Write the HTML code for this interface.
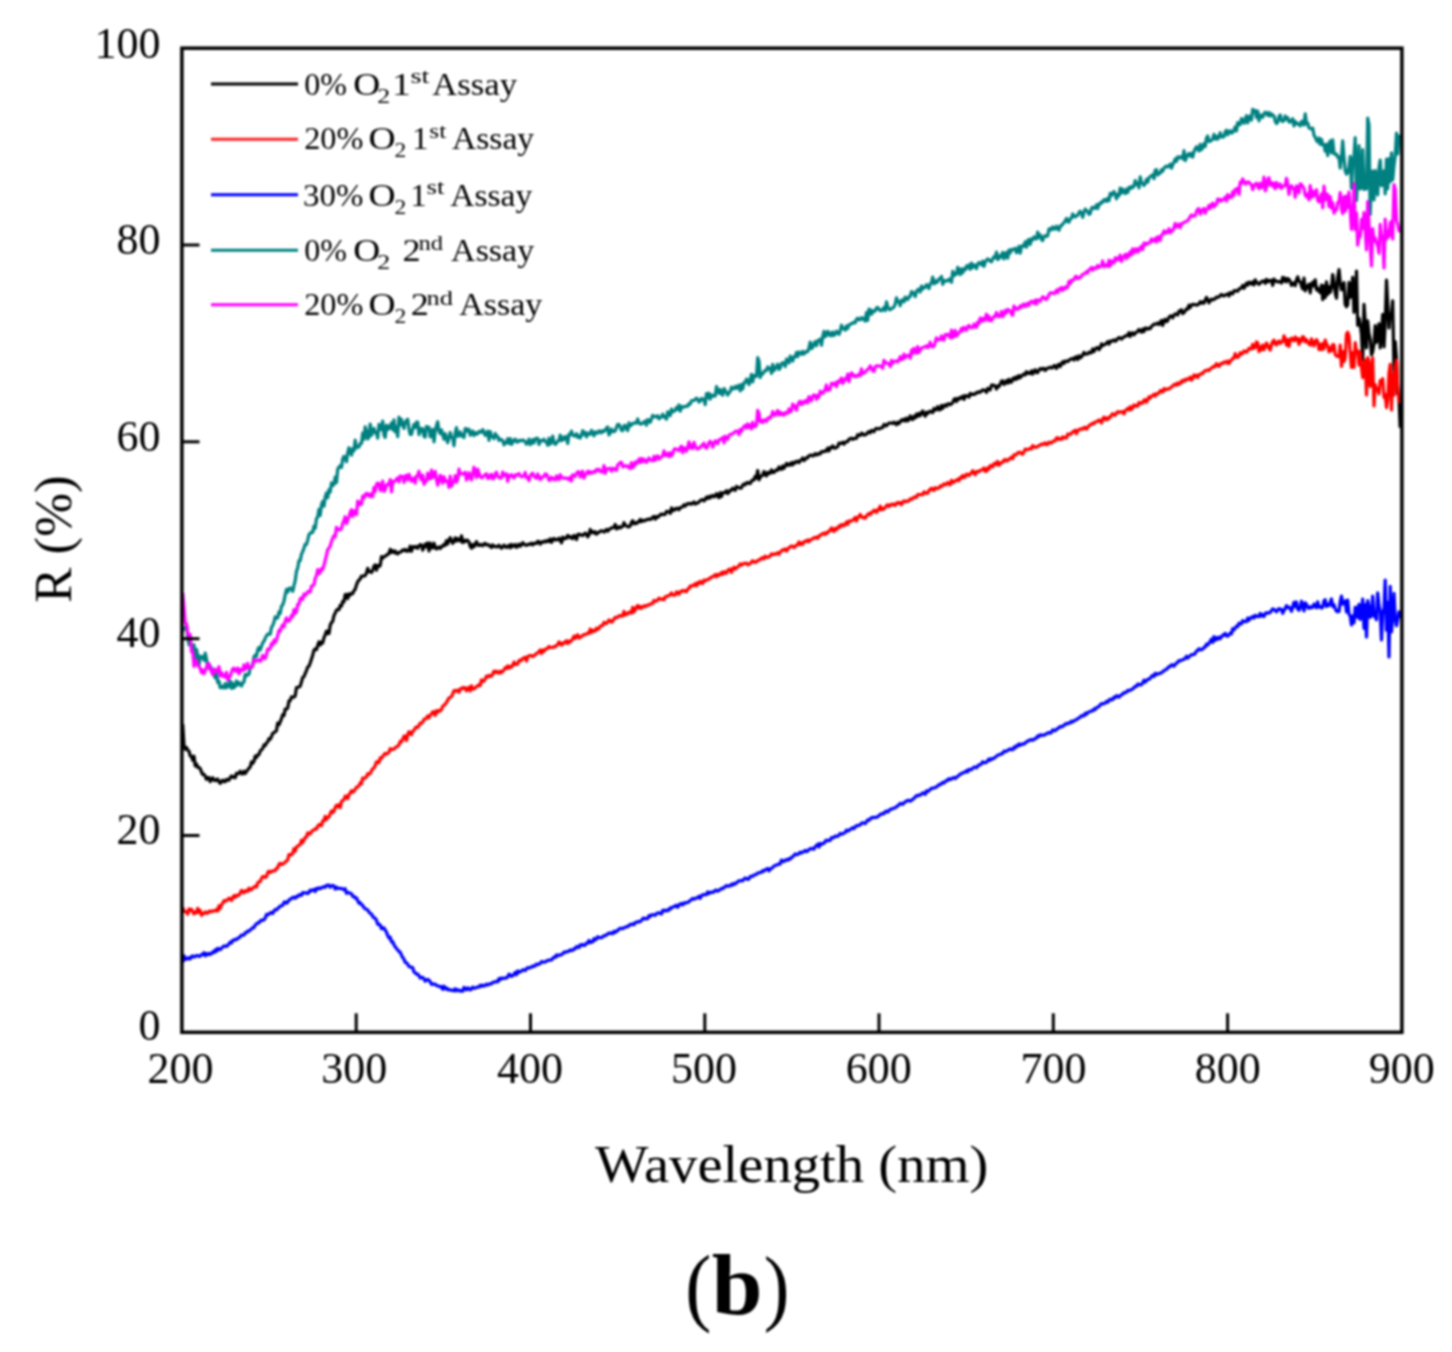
<!DOCTYPE html>
<html><head><meta charset="utf-8"><style>
html,body{margin:0;padding:0;background:#fff;width:1452px;height:1352px;overflow:hidden}
svg{display:block}
#w{filter:blur(1px)}
text{fill:#000}
</style></head><body><div id="w">
<svg width="1452" height="1352" viewBox="0 0 1452 1352">
<rect width="1452" height="1352" fill="#fff"/>
<polyline fill="none" stroke="#000000" stroke-width="3.2" stroke-linejoin="round" points="182.7,724.0 184.0,745.5 185.2,749.3 186.5,747.5 187.7,750.1 189.0,751.2 190.2,755.9 191.5,756.3 192.7,760.2 194.0,756.2 195.2,765.8 196.5,764.0 197.7,767.4 199.0,767.4 200.2,768.6 201.5,772.0 202.7,774.5 204.0,774.4 205.2,776.2 206.5,779.3 207.7,777.7 209.0,777.5 210.2,781.6 211.5,779.9 212.7,777.8 214.0,780.0 215.2,780.7 216.5,779.5 217.7,779.1 219.0,781.8 220.2,783.4 221.5,781.3 222.7,780.1 224.0,781.6 225.2,781.7 226.5,779.3 227.7,780.1 229.0,780.2 230.2,777.5 231.5,775.9 232.7,777.3 234.0,776.7 235.2,777.7 236.5,773.3 237.7,773.9 239.0,773.2 240.2,771.3 241.5,773.8 242.7,773.8 244.0,771.1 245.2,773.6 246.5,771.5 247.7,769.9 249.0,768.0 250.2,767.2 251.5,761.9 252.7,763.2 254.0,761.4 255.2,756.1 256.5,757.6 257.7,754.9 259.0,754.6 260.2,750.9 261.5,749.8 262.7,748.5 264.0,745.0 265.2,745.6 266.5,742.8 267.7,742.0 269.0,738.6 270.2,739.2 271.5,736.6 272.7,733.4 274.0,732.7 275.2,731.7 276.5,730.5 277.7,723.1 279.0,724.8 280.2,721.9 281.5,718.6 282.7,714.6 284.0,715.5 285.2,709.0 286.5,709.2 287.7,707.9 289.0,700.9 290.2,700.7 291.5,696.9 292.7,697.2 294.0,697.1 295.2,695.8 296.5,687.6 297.7,687.3 299.0,687.0 300.2,686.1 301.5,681.8 302.7,677.4 304.0,676.6 305.2,673.5 306.5,670.6 307.7,667.0 309.0,666.1 310.2,663.0 311.5,659.0 312.7,655.2 314.0,650.1 315.2,648.8 316.5,649.6 317.7,645.5 319.0,641.8 320.2,645.0 321.5,642.1 322.7,643.0 324.0,637.6 325.2,634.8 326.5,631.1 327.7,633.6 329.0,633.4 330.2,625.2 331.5,622.5 332.7,621.5 334.0,615.4 335.2,613.2 336.5,610.2 337.7,609.3 339.0,609.6 340.2,605.4 341.5,606.0 342.7,601.4 344.0,601.8 345.2,594.5 346.5,594.7 347.7,598.6 349.0,593.8 350.2,595.1 351.5,593.4 352.7,593.6 354.0,590.7 355.2,589.4 356.5,584.9 357.7,581.8 359.0,580.0 360.2,579.0 361.5,576.0 362.7,576.1 364.0,575.9 365.2,575.6 366.5,573.1 367.7,568.3 369.0,571.7 370.2,571.5 371.5,572.5 372.7,570.3 374.0,566.2 375.2,564.9 376.5,570.1 377.7,565.5 379.0,566.4 380.2,565.4 381.5,556.7 382.7,558.0 384.0,556.8 385.2,556.0 386.5,555.3 387.7,554.1 389.0,553.7 390.2,549.4 391.5,552.3 392.7,550.7 394.0,552.6 395.2,551.0 396.5,553.4 397.7,553.8 399.0,552.4 400.2,552.2 401.5,551.5 402.7,550.0 404.0,550.5 405.2,549.4 406.5,551.3 407.7,550.1 409.0,551.1 410.2,546.2 411.5,551.2 412.7,546.9 414.0,546.6 415.2,547.6 416.5,546.5 417.7,548.3 419.0,546.0 420.2,544.6 421.5,545.0 422.7,550.1 424.0,547.0 425.2,544.1 426.5,546.8 427.7,543.0 429.0,551.0 430.2,543.1 431.5,547.9 432.7,548.0 434.0,543.2 435.2,547.3 436.5,549.0 437.7,547.6 439.0,547.1 440.2,548.6 441.5,546.4 442.7,546.3 444.0,544.5 445.2,545.4 446.5,540.7 447.7,544.0 449.0,539.9 450.2,537.7 451.5,540.6 452.7,543.3 454.0,541.3 455.2,537.8 456.5,541.0 457.7,538.6 459.0,539.9 460.2,541.0 461.5,535.9 462.7,542.6 464.0,540.3 465.2,541.6 466.5,540.2 467.7,540.4 469.0,542.0 470.2,546.3 471.5,548.2 472.7,544.5 474.0,546.7 475.2,544.2 476.5,541.6 477.7,545.0 479.0,545.5 480.2,544.4 481.5,545.3 482.7,545.7 484.0,544.0 485.2,543.3 486.5,544.9 487.7,544.9 489.0,544.8 490.2,546.5 491.5,547.5 492.7,544.9 494.0,546.3 495.2,546.7 496.5,546.4 497.7,546.9 499.0,545.2 500.2,546.6 501.5,548.3 502.7,546.8 504.0,545.1 505.2,546.6 506.5,547.5 507.7,546.4 509.0,545.3 510.2,547.9 511.5,544.4 512.7,546.6 514.0,546.0 515.2,544.5 516.5,547.4 517.7,546.2 519.0,544.2 520.2,546.2 521.5,544.8 522.7,542.7 524.0,544.1 525.2,545.0 526.5,545.3 527.7,544.5 529.0,544.1 530.2,544.4 531.5,543.3 532.7,544.9 534.0,543.4 535.2,543.4 536.5,543.5 537.7,541.3 539.0,541.6 540.2,544.2 541.5,542.6 542.7,541.6 544.0,542.2 545.2,541.0 546.5,541.8 547.7,540.4 549.0,541.4 550.2,538.9 551.5,542.4 552.7,539.9 554.0,538.4 555.2,539.9 556.5,539.5 557.7,539.9 559.0,538.1 560.2,539.8 561.5,542.8 562.7,537.2 564.0,539.0 565.2,537.9 566.5,538.3 567.7,535.5 569.0,536.1 570.2,537.8 571.5,536.9 572.7,538.7 574.0,535.5 575.2,536.4 576.5,539.5 577.7,534.6 579.0,534.2 580.2,535.0 581.5,534.7 582.7,535.6 584.0,534.4 585.2,533.1 586.5,534.0 587.7,536.8 589.0,534.8 590.2,529.5 591.5,532.6 592.7,531.4 594.0,533.1 595.2,531.8 596.5,534.2 597.7,532.7 599.0,532.4 600.2,531.3 601.5,530.8 602.7,531.0 604.0,532.0 605.2,530.8 606.5,529.4 607.7,531.2 609.0,529.5 610.2,528.9 611.5,527.8 612.7,527.8 614.0,527.4 615.2,524.4 616.5,528.9 617.7,528.0 619.0,526.7 620.2,528.0 621.5,526.9 622.7,526.5 624.0,522.7 625.2,525.1 626.5,525.8 627.7,526.8 629.0,526.8 630.2,525.9 631.5,522.3 632.7,520.7 634.0,523.8 635.2,522.8 636.5,523.6 637.7,521.9 639.0,522.0 640.2,519.5 641.5,521.6 642.7,520.2 644.0,520.8 645.2,520.6 646.5,519.5 647.7,519.7 649.0,518.9 650.2,519.5 651.5,518.8 652.7,517.1 654.0,516.6 655.2,519.2 656.5,516.5 657.7,517.4 659.0,516.3 660.2,514.6 661.5,514.0 662.7,514.6 664.0,514.3 665.2,514.3 666.5,511.4 667.7,511.7 669.0,511.8 670.2,513.4 671.5,508.0 672.7,510.9 674.0,509.2 675.2,509.8 676.5,508.1 677.7,508.7 679.0,509.7 680.2,507.6 681.5,507.2 682.7,506.7 684.0,504.8 685.2,506.0 686.5,504.6 687.7,503.5 689.0,504.0 690.2,503.4 691.5,504.2 692.7,502.9 694.0,501.9 695.2,504.0 696.5,503.1 697.7,503.1 699.0,501.9 700.2,500.6 701.5,499.9 702.7,499.7 704.0,500.9 705.2,499.5 706.5,497.1 707.7,498.5 709.0,496.4 710.2,498.0 711.5,495.9 712.7,495.4 714.0,496.8 715.2,496.1 716.5,493.7 717.7,496.3 719.0,497.7 720.2,492.7 721.5,496.5 722.7,492.9 724.0,492.7 725.2,492.7 726.5,490.7 727.7,493.6 729.0,492.2 730.2,490.2 731.5,490.3 732.7,488.2 734.0,489.2 735.2,490.3 736.5,486.5 737.7,487.5 739.0,487.6 740.2,488.2 741.5,487.9 742.7,485.0 744.0,484.0 745.2,484.8 746.5,483.0 747.7,482.4 749.0,483.4 750.2,483.5 751.5,481.0 752.7,479.8 754.0,480.1 755.2,476.3 756.5,478.0 757.7,470.5 759.0,479.9 760.2,477.2 761.5,476.0 762.7,475.0 764.0,471.6 765.2,475.1 766.5,475.8 767.7,472.3 769.0,473.6 770.2,473.2 771.5,469.9 772.7,472.5 774.0,472.5 775.2,470.7 776.5,469.8 777.7,470.4 779.0,467.0 780.2,468.6 781.5,469.3 782.7,466.0 784.0,468.3 785.2,466.1 786.5,463.5 787.7,465.4 789.0,463.9 790.2,465.0 791.5,462.6 792.7,464.9 794.0,462.2 795.2,463.0 796.5,461.3 797.7,461.2 799.0,462.5 800.2,460.8 801.5,459.6 802.7,458.0 804.0,460.5 805.2,459.4 806.5,457.6 807.7,457.8 809.0,455.7 810.2,455.3 811.5,455.0 812.7,456.0 814.0,455.4 815.2,453.6 816.5,455.0 817.7,454.5 819.0,453.3 820.2,453.9 821.5,451.7 822.7,451.5 824.0,451.7 825.2,450.6 826.5,451.1 827.7,448.1 829.0,450.9 830.2,447.7 831.5,448.0 832.7,445.9 834.0,447.9 835.2,448.2 836.5,447.4 837.7,446.6 839.0,443.1 840.2,443.5 841.5,443.3 842.7,442.2 844.0,444.2 845.2,442.4 846.5,441.6 847.7,441.6 849.0,439.2 850.2,438.7 851.5,438.2 852.7,439.3 854.0,438.5 855.2,438.3 856.5,438.3 857.7,434.7 859.0,435.2 860.2,435.5 861.5,433.2 862.7,433.7 864.0,435.1 865.2,434.7 866.5,434.2 867.7,432.4 869.0,431.6 870.2,432.8 871.5,430.5 872.7,430.9 874.0,431.7 875.2,429.1 876.5,428.4 877.7,428.7 879.0,429.0 880.2,428.4 881.5,427.6 882.7,427.6 884.0,424.5 885.2,425.0 886.5,425.9 887.7,424.1 889.0,423.2 890.2,423.0 891.5,423.0 892.7,423.5 894.0,422.1 895.2,423.3 896.5,424.7 897.7,422.1 899.0,423.5 900.2,421.9 901.5,419.8 902.7,420.5 904.0,419.2 905.2,421.0 906.5,418.2 907.7,420.9 909.0,419.5 910.2,415.9 911.5,419.0 912.7,419.5 914.0,416.2 915.2,418.0 916.5,414.1 917.7,416.3 919.0,413.5 920.2,415.7 921.5,412.5 922.7,411.0 924.0,414.3 925.2,416.2 926.5,412.2 927.7,413.5 929.0,412.1 930.2,411.1 931.5,411.8 932.7,412.6 934.0,408.5 935.2,410.2 936.5,409.4 937.7,406.6 939.0,409.9 940.2,409.7 941.5,405.5 942.7,408.3 944.0,405.6 945.2,404.8 946.5,406.3 947.7,404.1 949.0,403.7 950.2,404.6 951.5,403.8 952.7,402.8 954.0,399.4 955.2,398.7 956.5,401.5 957.7,398.5 959.0,399.4 960.2,397.4 961.5,398.0 962.7,396.2 964.0,399.4 965.2,395.6 966.5,396.3 967.7,395.8 969.0,397.1 970.2,393.4 971.5,394.7 972.7,394.0 974.0,394.5 975.2,394.0 976.5,392.4 977.7,392.8 979.0,391.6 980.2,392.2 981.5,391.1 982.7,389.9 984.0,390.3 985.2,390.3 986.5,392.3 987.7,388.4 989.0,388.9 990.2,389.9 991.5,385.1 992.7,385.1 994.0,385.3 995.2,386.2 996.5,389.0 997.7,386.0 999.0,386.5 1000.2,384.3 1001.5,381.0 1002.7,380.8 1004.0,384.5 1005.2,383.0 1006.5,380.6 1007.7,383.2 1009.0,379.3 1010.2,382.2 1011.5,382.1 1012.7,378.8 1014.0,377.8 1015.2,379.7 1016.5,376.8 1017.7,378.7 1019.0,375.6 1020.2,377.6 1021.5,376.2 1022.7,375.0 1024.0,373.9 1025.2,374.9 1026.5,371.7 1027.7,373.3 1029.0,372.7 1030.2,373.6 1031.5,370.8 1032.7,374.1 1034.0,371.2 1035.2,369.8 1036.5,372.6 1037.7,372.6 1039.0,369.9 1040.2,368.7 1041.5,369.5 1042.7,368.3 1044.0,368.5 1045.2,370.5 1046.5,368.7 1047.7,368.1 1049.0,368.0 1050.2,367.2 1051.5,367.9 1052.7,367.6 1054.0,365.7 1055.2,365.9 1056.5,368.4 1057.7,365.5 1059.0,364.3 1060.2,366.6 1061.5,363.6 1062.7,361.8 1064.0,363.5 1065.2,361.0 1066.5,361.0 1067.7,361.6 1069.0,360.5 1070.2,359.2 1071.5,358.9 1072.7,358.4 1074.0,360.0 1075.2,357.2 1076.5,356.8 1077.7,359.5 1079.0,355.8 1080.2,357.8 1081.5,357.0 1082.7,354.7 1084.0,352.5 1085.2,354.3 1086.5,354.0 1087.7,353.8 1089.0,352.1 1090.2,353.0 1091.5,352.6 1092.7,349.0 1094.0,351.5 1095.2,349.3 1096.5,347.8 1097.7,347.5 1099.0,349.7 1100.2,348.0 1101.5,343.9 1102.7,345.7 1104.0,344.9 1105.2,344.3 1106.5,343.3 1107.7,341.6 1109.0,344.0 1110.2,341.2 1111.5,341.4 1112.7,340.6 1114.0,339.9 1115.2,341.3 1116.5,340.3 1117.7,338.5 1119.0,337.7 1120.2,337.8 1121.5,339.1 1122.7,337.5 1124.0,337.2 1125.2,336.0 1126.5,335.6 1127.7,335.7 1129.0,332.7 1130.2,336.5 1131.5,333.0 1132.7,332.8 1134.0,334.8 1135.2,333.0 1136.5,332.3 1137.7,331.1 1139.0,329.5 1140.2,331.3 1141.5,332.1 1142.7,329.1 1144.0,331.5 1145.2,328.0 1146.5,328.1 1147.7,329.2 1149.0,328.2 1150.2,328.6 1151.5,326.3 1152.7,325.5 1154.0,324.0 1155.2,324.3 1156.5,324.0 1157.7,323.0 1159.0,324.6 1160.2,322.7 1161.5,320.4 1162.7,325.4 1164.0,320.5 1165.2,319.3 1166.5,321.7 1167.7,320.8 1169.0,317.2 1170.2,316.1 1171.5,315.9 1172.7,317.8 1174.0,315.3 1175.2,313.9 1176.5,314.2 1177.7,315.0 1179.0,311.1 1180.2,311.6 1181.5,309.7 1182.7,313.6 1184.0,312.5 1185.2,310.8 1186.5,308.8 1187.7,309.2 1189.0,305.2 1190.2,307.5 1191.5,304.9 1192.7,304.4 1194.0,304.6 1195.2,304.5 1196.5,305.1 1197.7,304.8 1199.0,303.7 1200.2,301.7 1201.5,303.3 1202.7,301.9 1204.0,303.1 1205.2,300.1 1206.5,297.4 1207.7,299.9 1209.0,302.8 1210.2,300.3 1211.5,299.1 1212.7,300.0 1214.0,299.2 1215.2,298.7 1216.5,297.0 1217.7,297.3 1219.0,297.0 1220.2,295.5 1221.5,294.4 1222.7,295.5 1224.0,296.0 1225.2,295.1 1226.5,294.4 1227.7,293.9 1229.0,296.0 1230.2,292.6 1231.5,293.1 1232.7,293.8 1234.0,290.9 1235.2,290.6 1236.5,291.0 1237.7,291.3 1239.0,289.1 1240.2,288.6 1241.5,287.8 1242.7,285.5 1244.0,288.2 1245.2,285.8 1246.5,283.2 1247.7,285.1 1249.0,282.1 1250.2,282.7 1251.5,284.0 1252.7,281.9 1254.0,284.9 1255.2,279.9 1256.5,282.7 1257.7,282.9 1259.0,284.4 1260.2,283.2 1261.5,281.6 1262.7,281.2 1264.0,280.9 1265.2,283.3 1266.5,279.5 1267.7,281.9 1269.0,280.5 1270.2,281.2 1271.5,280.1 1272.7,285.3 1274.0,279.1 1275.2,281.1 1276.5,281.1 1277.7,281.9 1279.0,281.6 1280.2,281.6 1281.5,283.0 1282.7,277.3 1284.0,281.0 1285.2,278.2 1286.5,281.9 1287.7,278.6 1289.0,279.3 1290.2,281.6 1291.5,285.4 1292.7,283.4 1294.0,282.8 1295.2,285.7 1296.5,279.8 1297.7,276.8 1299.0,281.2 1300.2,281.6 1301.5,285.8 1302.7,288.8 1304.0,278.2 1305.2,290.8 1306.5,288.1 1307.7,285.7 1309.0,284.1 1310.2,292.9 1311.5,283.9 1312.7,282.2 1314.0,286.0 1315.2,279.8 1316.5,289.8 1317.7,288.0 1319.0,291.4 1320.2,292.5 1321.5,285.2 1322.7,299.6 1324.0,285.9 1325.2,297.7 1326.5,281.8 1327.7,294.6 1329.0,286.5 1330.2,292.4 1331.5,287.2 1332.7,274.5 1334.0,282.6 1335.2,292.8 1336.5,298.1 1337.7,277.3 1339.0,269.7 1340.2,282.5 1341.5,289.8 1342.7,284.8 1344.0,282.7 1345.2,304.4 1346.5,306.7 1347.7,304.6 1349.0,282.4 1350.2,297.3 1351.5,294.4 1352.7,277.4 1354.0,312.3 1355.2,301.8 1356.5,271.0 1357.7,325.3 1359.0,318.2 1360.2,323.9 1361.5,334.2 1362.7,360.0 1364.0,304.4 1365.2,322.6 1366.5,347.8 1367.7,320.9 1369.0,333.7 1370.2,339.0 1371.5,354.9 1372.7,351.6 1374.0,344.1 1375.2,325.7 1376.5,342.3 1377.7,335.3 1379.0,323.8 1380.2,347.9 1381.5,334.2 1382.7,314.3 1384.0,346.8 1385.2,322.8 1386.5,280.0 1387.7,303.3 1389.0,328.0 1390.2,313.9 1391.5,314.2 1392.7,300.8 1394.0,370.6 1395.2,341.7 1396.5,358.7 1397.7,393.6 1399.0,397.4 1400.2,427.7"/>
<polyline fill="none" stroke="#ff0000" stroke-width="3.2" stroke-linejoin="round" points="182.7,907.3 184.0,911.4 185.2,911.4 186.5,912.0 187.7,914.2 189.0,909.0 190.2,910.4 191.5,909.3 192.7,911.7 194.0,913.9 195.2,912.0 196.5,912.9 197.7,908.4 199.0,912.3 200.2,910.3 201.5,915.3 202.7,913.6 204.0,913.7 205.2,911.9 206.5,913.1 207.7,913.2 209.0,911.4 210.2,911.1 211.5,911.8 212.7,910.9 214.0,910.9 215.2,911.0 216.5,909.5 217.7,911.0 219.0,905.8 220.2,908.5 221.5,904.7 222.7,903.4 224.0,900.7 225.2,901.4 226.5,900.2 227.7,900.1 229.0,898.2 230.2,898.5 231.5,900.5 232.7,897.7 234.0,895.6 235.2,897.4 236.5,895.2 237.7,895.7 239.0,895.2 240.2,893.1 241.5,890.3 242.7,892.0 244.0,892.8 245.2,890.7 246.5,891.2 247.7,891.3 249.0,888.2 250.2,890.0 251.5,889.7 252.7,888.0 254.0,887.3 255.2,886.2 256.5,887.0 257.7,883.0 259.0,881.8 260.2,881.7 261.5,878.5 262.7,876.5 264.0,876.6 265.2,877.5 266.5,876.6 267.7,872.6 269.0,871.1 270.2,872.4 271.5,871.6 272.7,870.8 274.0,870.8 275.2,870.7 276.5,868.2 277.7,867.9 279.0,864.4 280.2,863.3 281.5,864.5 282.7,864.2 284.0,863.3 285.2,862.0 286.5,861.1 287.7,859.9 289.0,854.7 290.2,854.7 291.5,854.9 292.7,853.5 294.0,848.7 295.2,851.2 296.5,847.2 297.7,846.0 299.0,845.4 300.2,844.8 301.5,840.2 302.7,842.6 304.0,840.0 305.2,837.5 306.5,837.0 307.7,832.9 309.0,834.0 310.2,834.0 311.5,831.5 312.7,830.8 314.0,829.8 315.2,828.9 316.5,829.1 317.7,826.3 319.0,824.7 320.2,824.6 321.5,825.7 322.7,820.8 324.0,820.8 325.2,816.4 326.5,819.6 327.7,817.3 329.0,817.0 330.2,813.7 331.5,811.0 332.7,812.6 334.0,811.1 335.2,807.5 336.5,805.3 337.7,806.9 339.0,804.7 340.2,807.6 341.5,801.5 342.7,800.4 344.0,799.8 345.2,796.2 346.5,796.1 347.7,798.7 349.0,794.8 350.2,792.9 351.5,790.7 352.7,792.3 354.0,791.2 355.2,789.4 356.5,787.2 357.7,787.0 359.0,785.9 360.2,783.0 361.5,783.7 362.7,778.2 364.0,778.1 365.2,778.1 366.5,776.9 367.7,773.7 369.0,774.2 370.2,773.6 371.5,770.9 372.7,768.8 374.0,768.0 375.2,765.7 376.5,761.8 377.7,761.8 379.0,762.7 380.2,757.8 381.5,758.4 382.7,756.6 384.0,754.7 385.2,753.4 386.5,754.1 387.7,753.4 389.0,752.3 390.2,748.7 391.5,749.4 392.7,749.3 394.0,749.1 395.2,747.7 396.5,746.9 397.7,746.3 399.0,744.9 400.2,741.4 401.5,741.7 402.7,739.5 404.0,736.0 405.2,736.0 406.5,740.5 407.7,734.6 409.0,731.7 410.2,732.9 411.5,734.8 412.7,731.1 414.0,730.4 415.2,728.0 416.5,726.9 417.7,727.6 419.0,725.6 420.2,723.0 421.5,723.2 422.7,722.3 424.0,719.3 425.2,719.0 426.5,718.1 427.7,715.9 429.0,717.9 430.2,715.3 431.5,714.0 432.7,711.8 434.0,711.8 435.2,715.4 436.5,710.7 437.7,712.3 439.0,710.3 440.2,710.8 441.5,709.8 442.7,706.3 444.0,705.4 445.2,704.2 446.5,702.4 447.7,700.2 449.0,697.9 450.2,697.4 451.5,696.7 452.7,694.0 454.0,690.7 455.2,691.4 456.5,690.2 457.7,690.5 459.0,692.2 460.2,688.9 461.5,689.0 462.7,687.5 464.0,688.3 465.2,687.7 466.5,690.8 467.7,688.8 469.0,687.3 470.2,690.9 471.5,685.9 472.7,689.0 474.0,688.9 475.2,688.0 476.5,686.4 477.7,686.0 479.0,684.8 480.2,685.5 481.5,679.9 482.7,681.4 484.0,681.1 485.2,678.9 486.5,676.1 487.7,677.0 489.0,675.4 490.2,676.3 491.5,676.2 492.7,674.1 494.0,671.2 495.2,672.6 496.5,671.2 497.7,672.5 499.0,673.2 500.2,671.1 501.5,672.6 502.7,671.5 504.0,670.0 505.2,667.7 506.5,668.3 507.7,665.9 509.0,668.1 510.2,666.4 511.5,667.2 512.7,665.3 514.0,662.1 515.2,664.4 516.5,664.0 517.7,664.2 519.0,660.6 520.2,660.0 521.5,660.5 522.7,658.6 524.0,657.7 525.2,657.4 526.5,661.0 527.7,656.7 529.0,655.7 530.2,655.7 531.5,655.7 532.7,656.6 534.0,655.6 535.2,654.8 536.5,653.4 537.7,653.0 539.0,651.5 540.2,650.0 541.5,653.5 542.7,650.1 544.0,651.3 545.2,649.2 546.5,648.9 547.7,648.4 549.0,646.5 550.2,647.5 551.5,647.5 552.7,647.5 554.0,646.7 555.2,646.8 556.5,645.5 557.7,644.7 559.0,642.0 560.2,643.2 561.5,645.2 562.7,643.1 564.0,643.4 565.2,641.8 566.5,640.8 567.7,643.5 569.0,641.1 570.2,642.0 571.5,640.4 572.7,639.0 574.0,636.2 575.2,638.4 576.5,636.0 577.7,634.8 579.0,638.2 580.2,637.1 581.5,636.5 582.7,635.3 584.0,634.7 585.2,634.7 586.5,633.9 587.7,633.2 589.0,633.4 590.2,629.2 591.5,632.5 592.7,630.1 594.0,631.3 595.2,631.0 596.5,628.1 597.7,629.3 599.0,628.6 600.2,626.2 601.5,625.7 602.7,625.7 604.0,622.3 605.2,623.5 606.5,623.5 607.7,622.0 609.0,620.0 610.2,620.6 611.5,622.1 612.7,621.2 614.0,618.9 615.2,617.4 616.5,617.7 617.7,617.2 619.0,615.8 620.2,615.6 621.5,616.2 622.7,616.0 624.0,611.5 625.2,614.9 626.5,613.4 627.7,614.1 629.0,612.2 630.2,612.2 631.5,613.1 632.7,607.3 634.0,612.0 635.2,609.8 636.5,607.0 637.7,605.5 639.0,608.4 640.2,606.4 641.5,608.2 642.7,606.8 644.0,605.9 645.2,606.7 646.5,605.3 647.7,605.4 649.0,605.0 650.2,603.9 651.5,604.0 652.7,603.5 654.0,600.5 655.2,601.2 656.5,600.9 657.7,600.1 659.0,598.2 660.2,598.9 661.5,599.5 662.7,598.8 664.0,599.8 665.2,596.9 666.5,596.6 667.7,595.9 669.0,595.7 670.2,594.9 671.5,593.0 672.7,595.0 674.0,595.3 675.2,594.9 676.5,591.9 677.7,592.4 679.0,594.3 680.2,591.5 681.5,591.5 682.7,590.4 684.0,591.2 685.2,590.7 686.5,591.7 687.7,589.1 689.0,588.5 690.2,586.0 691.5,586.3 692.7,585.4 694.0,585.3 695.2,583.6 696.5,585.9 697.7,582.7 699.0,583.7 700.2,581.3 701.5,582.6 702.7,583.5 704.0,580.1 705.2,580.9 706.5,579.9 707.7,579.7 709.0,579.3 710.2,577.6 711.5,577.6 712.7,576.6 714.0,575.8 715.2,574.8 716.5,576.8 717.7,574.3 719.0,575.4 720.2,574.8 721.5,572.5 722.7,574.3 724.0,571.7 725.2,572.9 726.5,573.3 727.7,570.3 729.0,569.6 730.2,569.1 731.5,572.4 732.7,568.8 734.0,567.3 735.2,569.2 736.5,567.6 737.7,567.3 739.0,565.8 740.2,563.9 741.5,565.2 742.7,564.4 744.0,563.3 745.2,563.5 746.5,563.2 747.7,564.8 749.0,564.3 750.2,563.6 751.5,562.0 752.7,560.8 754.0,562.1 755.2,561.9 756.5,562.1 757.7,560.4 759.0,559.9 760.2,559.9 761.5,558.0 762.7,557.7 764.0,558.9 765.2,556.2 766.5,557.1 767.7,557.6 769.0,556.5 770.2,556.2 771.5,553.9 772.7,554.5 774.0,553.9 775.2,554.4 776.5,553.6 777.7,552.7 779.0,554.3 780.2,552.3 781.5,550.8 782.7,549.9 784.0,550.1 785.2,548.9 786.5,551.0 787.7,549.3 789.0,547.7 790.2,546.9 791.5,545.9 792.7,546.3 794.0,547.6 795.2,546.6 796.5,545.1 797.7,544.8 799.0,542.0 800.2,544.5 801.5,542.9 802.7,544.2 804.0,541.9 805.2,541.1 806.5,541.4 807.7,539.9 809.0,541.7 810.2,539.9 811.5,539.5 812.7,538.9 814.0,537.6 815.2,538.0 816.5,537.1 817.7,538.4 819.0,535.9 820.2,535.7 821.5,534.2 822.7,533.7 824.0,533.2 825.2,534.5 826.5,532.5 827.7,533.0 829.0,531.0 830.2,530.3 831.5,528.0 832.7,530.6 834.0,531.4 835.2,528.2 836.5,529.6 837.7,528.3 839.0,526.0 840.2,527.1 841.5,524.6 842.7,524.7 844.0,525.9 845.2,524.1 846.5,522.0 847.7,524.4 849.0,521.0 850.2,521.5 851.5,520.7 852.7,520.3 854.0,519.0 855.2,517.5 856.5,521.0 857.7,517.2 859.0,516.7 860.2,514.4 861.5,516.8 862.7,517.6 864.0,517.2 865.2,518.2 866.5,516.2 867.7,514.5 869.0,513.5 870.2,514.6 871.5,512.3 872.7,512.1 874.0,510.2 875.2,510.9 876.5,512.6 877.7,509.7 879.0,509.8 880.2,506.1 881.5,509.9 882.7,508.4 884.0,509.1 885.2,507.4 886.5,505.7 887.7,504.7 889.0,506.5 890.2,505.6 891.5,504.2 892.7,504.9 894.0,504.0 895.2,505.3 896.5,503.7 897.7,502.5 899.0,503.5 900.2,502.7 901.5,504.7 902.7,502.1 904.0,500.8 905.2,501.8 906.5,501.2 907.7,501.3 909.0,500.8 910.2,498.8 911.5,499.4 912.7,498.8 914.0,497.0 915.2,497.1 916.5,497.4 917.7,494.7 919.0,494.6 920.2,494.7 921.5,494.5 922.7,494.6 924.0,491.8 925.2,493.1 926.5,492.9 927.7,493.3 929.0,490.5 930.2,489.4 931.5,488.2 932.7,490.0 934.0,490.4 935.2,487.6 936.5,488.4 937.7,488.4 939.0,488.0 940.2,486.0 941.5,486.7 942.7,485.4 944.0,483.9 945.2,484.8 946.5,484.4 947.7,482.5 949.0,483.6 950.2,484.9 951.5,480.4 952.7,482.4 954.0,482.2 955.2,480.7 956.5,480.5 957.7,479.3 959.0,480.7 960.2,477.6 961.5,478.0 962.7,475.4 964.0,477.5 965.2,477.0 966.5,474.2 967.7,474.6 969.0,475.6 970.2,474.0 971.5,472.7 972.7,470.7 974.0,473.4 975.2,474.7 976.5,471.5 977.7,472.0 979.0,471.5 980.2,470.4 981.5,470.1 982.7,469.6 984.0,468.0 985.2,471.4 986.5,471.2 987.7,467.9 989.0,469.1 990.2,465.7 991.5,465.9 992.7,466.9 994.0,463.8 995.2,463.2 996.5,464.6 997.7,461.4 999.0,465.2 1000.2,463.6 1001.5,462.5 1002.7,462.4 1004.0,460.1 1005.2,459.5 1006.5,461.1 1007.7,460.6 1009.0,459.1 1010.2,458.3 1011.5,457.2 1012.7,458.8 1014.0,454.8 1015.2,454.9 1016.5,454.7 1017.7,452.9 1019.0,452.5 1020.2,452.2 1021.5,453.9 1022.7,454.2 1024.0,452.0 1025.2,449.1 1026.5,449.7 1027.7,449.7 1029.0,449.0 1030.2,448.4 1031.5,448.9 1032.7,445.6 1034.0,446.7 1035.2,447.2 1036.5,447.3 1037.7,446.4 1039.0,445.7 1040.2,445.1 1041.5,444.1 1042.7,444.6 1044.0,443.8 1045.2,442.9 1046.5,444.7 1047.7,444.3 1049.0,442.1 1050.2,442.8 1051.5,443.0 1052.7,441.5 1054.0,440.9 1055.2,440.9 1056.5,438.0 1057.7,437.7 1059.0,439.5 1060.2,438.7 1061.5,439.4 1062.7,436.8 1064.0,438.0 1065.2,437.5 1066.5,438.0 1067.7,434.2 1069.0,434.2 1070.2,434.3 1071.5,433.7 1072.7,431.7 1074.0,431.7 1075.2,430.2 1076.5,433.8 1077.7,430.5 1079.0,430.0 1080.2,428.8 1081.5,429.0 1082.7,429.3 1084.0,427.5 1085.2,427.3 1086.5,429.2 1087.7,427.3 1089.0,425.9 1090.2,424.6 1091.5,424.5 1092.7,423.1 1094.0,423.7 1095.2,422.1 1096.5,421.5 1097.7,421.3 1099.0,420.0 1100.2,420.9 1101.5,423.0 1102.7,418.9 1104.0,417.1 1105.2,419.6 1106.5,417.9 1107.7,419.7 1109.0,417.4 1110.2,417.5 1111.5,415.1 1112.7,413.7 1114.0,414.8 1115.2,415.3 1116.5,413.1 1117.7,411.7 1119.0,412.4 1120.2,412.1 1121.5,411.8 1122.7,411.6 1124.0,413.9 1125.2,410.7 1126.5,409.6 1127.7,408.4 1129.0,410.0 1130.2,406.7 1131.5,409.6 1132.7,407.4 1134.0,405.0 1135.2,406.3 1136.5,405.4 1137.7,406.2 1139.0,402.4 1140.2,403.7 1141.5,402.7 1142.7,403.1 1144.0,400.0 1145.2,399.7 1146.5,402.2 1147.7,399.8 1149.0,396.8 1150.2,398.1 1151.5,396.2 1152.7,395.6 1154.0,394.3 1155.2,396.1 1156.5,393.7 1157.7,393.9 1159.0,393.1 1160.2,390.6 1161.5,390.9 1162.7,392.0 1164.0,388.6 1165.2,390.1 1166.5,389.0 1167.7,389.3 1169.0,388.7 1170.2,388.2 1171.5,386.7 1172.7,386.3 1174.0,384.6 1175.2,384.2 1176.5,385.2 1177.7,382.9 1179.0,384.2 1180.2,383.6 1181.5,381.0 1182.7,382.0 1184.0,379.9 1185.2,380.7 1186.5,378.9 1187.7,379.6 1189.0,379.0 1190.2,377.1 1191.5,380.1 1192.7,378.4 1194.0,375.0 1195.2,376.7 1196.5,375.3 1197.7,377.6 1199.0,374.6 1200.2,374.6 1201.5,373.4 1202.7,373.7 1204.0,371.7 1205.2,370.6 1206.5,370.5 1207.7,369.9 1209.0,370.4 1210.2,369.1 1211.5,367.9 1212.7,367.3 1214.0,366.1 1215.2,366.7 1216.5,363.7 1217.7,365.3 1219.0,366.4 1220.2,364.2 1221.5,363.4 1222.7,363.7 1224.0,362.1 1225.2,361.9 1226.5,363.0 1227.7,361.0 1229.0,363.5 1230.2,361.3 1231.5,359.9 1232.7,358.4 1234.0,358.1 1235.2,353.6 1236.5,357.1 1237.7,357.5 1239.0,355.9 1240.2,352.7 1241.5,354.2 1242.7,353.4 1244.0,350.9 1245.2,351.3 1246.5,352.4 1247.7,350.7 1249.0,348.3 1250.2,348.9 1251.5,348.9 1252.7,344.3 1254.0,348.3 1255.2,347.4 1256.5,342.0 1257.7,342.9 1259.0,351.6 1260.2,347.0 1261.5,349.9 1262.7,345.1 1264.0,349.7 1265.2,346.8 1266.5,343.1 1267.7,345.3 1269.0,348.3 1270.2,350.1 1271.5,344.7 1272.7,341.7 1274.0,340.1 1275.2,344.1 1276.5,344.9 1277.7,342.0 1279.0,341.0 1280.2,343.3 1281.5,342.1 1282.7,341.6 1284.0,335.8 1285.2,339.0 1286.5,345.2 1287.7,339.4 1289.0,346.5 1290.2,340.3 1291.5,338.2 1292.7,339.9 1294.0,340.8 1295.2,337.0 1296.5,340.1 1297.7,338.4 1299.0,344.5 1300.2,339.0 1301.5,341.2 1302.7,336.6 1304.0,337.4 1305.2,341.9 1306.5,339.6 1307.7,341.9 1309.0,343.8 1310.2,345.0 1311.5,338.8 1312.7,342.9 1314.0,345.8 1315.2,341.5 1316.5,339.6 1317.7,341.7 1319.0,349.6 1320.2,344.3 1321.5,349.7 1322.7,343.5 1324.0,348.8 1325.2,340.0 1326.5,344.3 1327.7,345.7 1329.0,351.8 1330.2,347.7 1331.5,350.8 1332.7,344.7 1334.0,344.9 1335.2,354.3 1336.5,356.2 1337.7,356.0 1339.0,356.9 1340.2,345.2 1341.5,366.4 1342.7,351.4 1344.0,361.6 1345.2,357.9 1346.5,334.4 1347.7,332.3 1349.0,335.7 1350.2,353.1 1351.5,367.5 1352.7,352.5 1354.0,367.5 1355.2,342.5 1356.5,352.4 1357.7,350.8 1359.0,365.0 1360.2,351.5 1361.5,367.0 1362.7,377.6 1364.0,364.8 1365.2,360.2 1366.5,395.0 1367.7,357.7 1369.0,361.0 1370.2,386.4 1371.5,381.0 1372.7,357.9 1374.0,406.0 1375.2,384.7 1376.5,390.1 1377.7,388.6 1379.0,393.8 1380.2,380.5 1381.5,381.4 1382.7,378.7 1384.0,397.5 1385.2,394.6 1386.5,407.7 1387.7,399.2 1389.0,373.1 1390.2,364.4 1391.5,410.0 1392.7,373.6 1394.0,395.1 1395.2,368.0 1396.5,360.1 1397.7,386.7 1399.0,401.5 1400.2,402.2"/>
<polyline fill="none" stroke="#0000ff" stroke-width="3.2" stroke-linejoin="round" points="182.7,962.5 184.0,955.8 185.2,959.5 186.5,958.1 187.7,959.0 189.0,957.6 190.2,958.9 191.5,956.7 192.7,955.9 194.0,956.9 195.2,956.6 196.5,955.6 197.7,955.5 199.0,956.3 200.2,956.1 201.5,954.7 202.7,954.5 204.0,952.7 205.2,955.8 206.5,953.6 207.7,954.7 209.0,953.4 210.2,954.4 211.5,953.6 212.7,951.9 214.0,952.6 215.2,949.8 216.5,951.4 217.7,948.3 219.0,949.5 220.2,949.6 221.5,948.2 222.7,947.1 224.0,946.1 225.2,945.9 226.5,946.4 227.7,945.5 229.0,943.8 230.2,942.2 231.5,943.0 232.7,940.4 234.0,940.3 235.2,939.3 236.5,939.7 237.7,938.4 239.0,937.8 240.2,936.7 241.5,935.1 242.7,935.2 244.0,935.1 245.2,932.9 246.5,932.6 247.7,931.0 249.0,931.1 250.2,929.8 251.5,929.0 252.7,927.6 254.0,927.7 255.2,925.1 256.5,924.1 257.7,922.9 259.0,923.0 260.2,921.0 261.5,920.1 262.7,920.3 264.0,919.7 265.2,918.2 266.5,914.5 267.7,915.0 269.0,914.0 270.2,912.9 271.5,912.6 272.7,913.6 274.0,910.8 275.2,909.5 276.5,909.9 277.7,908.4 279.0,907.6 280.2,906.1 281.5,905.8 282.7,905.3 284.0,902.4 285.2,901.8 286.5,903.2 287.7,902.2 289.0,900.2 290.2,899.0 291.5,898.9 292.7,897.3 294.0,897.3 295.2,898.3 296.5,896.4 297.7,896.7 299.0,894.9 300.2,894.9 301.5,895.3 302.7,892.6 304.0,893.0 305.2,892.8 306.5,892.8 307.7,893.5 309.0,892.3 310.2,890.1 311.5,890.8 312.7,889.9 314.0,889.4 315.2,891.5 316.5,888.4 317.7,889.0 319.0,887.8 320.2,888.6 321.5,887.8 322.7,887.2 324.0,886.7 325.2,887.4 326.5,885.4 327.7,885.4 329.0,885.1 330.2,887.2 331.5,885.9 332.7,885.4 334.0,886.2 335.2,889.0 336.5,887.1 337.7,888.3 339.0,888.4 340.2,888.5 341.5,888.4 342.7,889.2 344.0,889.7 345.2,888.7 346.5,893.3 347.7,892.5 349.0,892.6 350.2,893.3 351.5,893.7 352.7,896.3 354.0,896.4 355.2,898.2 356.5,897.8 357.7,900.5 359.0,903.2 360.2,902.6 361.5,904.8 362.7,905.4 364.0,907.6 365.2,908.8 366.5,909.2 367.7,910.0 369.0,912.1 370.2,913.2 371.5,914.1 372.7,916.4 374.0,917.8 375.2,918.2 376.5,920.3 377.7,924.4 379.0,924.2 380.2,925.1 381.5,928.8 382.7,927.9 384.0,927.9 385.2,930.1 386.5,932.2 387.7,935.6 389.0,938.0 390.2,937.2 391.5,941.9 392.7,941.7 394.0,944.8 395.2,946.7 396.5,948.5 397.7,949.8 399.0,951.6 400.2,952.2 401.5,955.2 402.7,957.5 404.0,959.2 405.2,962.4 406.5,962.8 407.7,964.2 409.0,966.6 410.2,967.0 411.5,967.2 412.7,967.8 414.0,972.1 415.2,972.7 416.5,974.1 417.7,974.1 419.0,975.7 420.2,978.0 421.5,977.6 422.7,977.3 424.0,978.8 425.2,981.2 426.5,979.9 427.7,979.4 429.0,980.3 430.2,981.8 431.5,984.3 432.7,984.2 434.0,984.1 435.2,984.1 436.5,985.5 437.7,986.0 439.0,986.1 440.2,986.8 441.5,986.7 442.7,989.3 444.0,986.2 445.2,988.7 446.5,988.0 447.7,989.8 449.0,989.3 450.2,990.0 451.5,990.3 452.7,990.1 454.0,990.8 455.2,988.8 456.5,990.8 457.7,989.7 459.0,990.2 460.2,991.1 461.5,990.6 462.7,991.2 464.0,987.4 465.2,988.4 466.5,989.8 467.7,987.9 469.0,988.5 470.2,989.9 471.5,989.0 472.7,987.2 474.0,988.2 475.2,988.1 476.5,987.4 477.7,987.1 479.0,987.0 480.2,985.3 481.5,986.4 482.7,985.2 484.0,986.0 485.2,985.6 486.5,984.2 487.7,985.0 489.0,984.4 490.2,983.7 491.5,983.8 492.7,982.6 494.0,982.1 495.2,981.9 496.5,981.4 497.7,981.8 499.0,978.6 500.2,979.7 501.5,977.9 502.7,978.5 504.0,978.5 505.2,977.8 506.5,978.0 507.7,977.0 509.0,974.2 510.2,974.9 511.5,976.3 512.7,975.8 514.0,974.2 515.2,972.5 516.5,974.7 517.7,971.0 519.0,972.3 520.2,971.6 521.5,971.3 522.7,969.8 524.0,969.8 525.2,970.5 526.5,968.8 527.7,967.6 529.0,968.1 530.2,967.7 531.5,967.0 532.7,966.0 534.0,966.5 535.2,965.5 536.5,964.2 537.7,964.7 539.0,964.0 540.2,963.6 541.5,961.7 542.7,961.8 544.0,962.2 545.2,962.0 546.5,961.1 547.7,960.4 549.0,960.3 550.2,959.9 551.5,960.0 552.7,958.5 554.0,957.2 555.2,957.4 556.5,955.0 557.7,956.0 559.0,955.1 560.2,954.9 561.5,954.7 562.7,953.8 564.0,952.2 565.2,952.4 566.5,951.6 567.7,951.6 569.0,951.3 570.2,949.8 571.5,950.5 572.7,950.4 574.0,948.7 575.2,948.9 576.5,946.7 577.7,946.9 579.0,947.5 580.2,944.9 581.5,945.3 582.7,944.5 584.0,945.5 585.2,945.0 586.5,943.1 587.7,943.1 589.0,940.5 590.2,942.6 591.5,941.7 592.7,941.9 594.0,938.6 595.2,940.1 596.5,939.0 597.7,936.8 599.0,937.7 600.2,937.6 601.5,937.7 602.7,936.7 604.0,935.7 605.2,935.8 606.5,934.9 607.7,933.9 609.0,933.1 610.2,933.5 611.5,932.9 612.7,933.7 614.0,931.4 615.2,932.4 616.5,930.9 617.7,931.0 619.0,928.9 620.2,928.4 621.5,928.3 622.7,928.7 624.0,927.6 625.2,927.5 626.5,926.7 627.7,926.7 629.0,925.5 630.2,924.4 631.5,924.7 632.7,923.9 634.0,924.6 635.2,922.6 636.5,922.3 637.7,921.5 639.0,922.0 640.2,921.3 641.5,920.6 642.7,918.7 644.0,918.0 645.2,918.8 646.5,918.6 647.7,918.7 649.0,915.7 650.2,916.4 651.5,914.8 652.7,914.8 654.0,914.9 655.2,915.3 656.5,913.6 657.7,913.0 659.0,912.8 660.2,913.5 661.5,913.9 662.7,910.4 664.0,910.8 665.2,910.2 666.5,910.9 667.7,909.9 669.0,910.2 670.2,907.8 671.5,908.1 672.7,907.2 674.0,906.3 675.2,906.5 676.5,905.2 677.7,907.2 679.0,905.4 680.2,903.8 681.5,903.7 682.7,904.9 684.0,902.8 685.2,903.2 686.5,902.6 687.7,902.5 689.0,901.6 690.2,900.5 691.5,899.7 692.7,898.3 694.0,899.1 695.2,898.8 696.5,897.9 697.7,897.6 699.0,896.3 700.2,898.3 701.5,895.8 702.7,894.9 704.0,894.7 705.2,894.6 706.5,894.7 707.7,891.9 709.0,893.6 710.2,892.3 711.5,892.1 712.7,892.5 714.0,891.8 715.2,890.3 716.5,890.2 717.7,891.2 719.0,890.4 720.2,889.5 721.5,888.4 722.7,888.6 724.0,887.7 725.2,886.5 726.5,885.7 727.7,886.4 729.0,885.8 730.2,885.9 731.5,884.2 732.7,885.1 734.0,883.3 735.2,884.0 736.5,883.0 737.7,881.6 739.0,880.9 740.2,881.0 741.5,880.4 742.7,880.8 744.0,879.1 745.2,878.0 746.5,878.6 747.7,879.5 749.0,878.8 750.2,876.6 751.5,876.3 752.7,876.2 754.0,875.0 755.2,874.7 756.5,874.2 757.7,873.1 759.0,872.8 760.2,872.4 761.5,872.4 762.7,870.7 764.0,871.2 765.2,869.8 766.5,869.3 767.7,868.5 769.0,870.9 770.2,869.0 771.5,868.5 772.7,867.4 774.0,866.0 775.2,865.6 776.5,865.1 777.7,864.6 779.0,864.1 780.2,864.1 781.5,860.1 782.7,861.3 784.0,861.6 785.2,860.1 786.5,859.7 787.7,860.3 789.0,858.7 790.2,859.2 791.5,857.3 792.7,856.9 794.0,855.3 795.2,854.0 796.5,854.6 797.7,854.4 799.0,853.5 800.2,852.2 801.5,853.1 802.7,852.1 804.0,851.5 805.2,850.4 806.5,851.7 807.7,851.0 809.0,849.6 810.2,848.7 811.5,848.4 812.7,848.9 814.0,849.2 815.2,846.6 816.5,845.7 817.7,844.1 819.0,847.0 820.2,843.5 821.5,844.4 822.7,843.5 824.0,843.5 825.2,841.3 826.5,840.1 827.7,840.8 829.0,840.4 830.2,840.4 831.5,837.6 832.7,837.9 834.0,837.5 835.2,836.0 836.5,836.3 837.7,836.4 839.0,835.1 840.2,833.5 841.5,834.2 842.7,833.9 844.0,833.0 845.2,832.6 846.5,830.1 847.7,831.1 849.0,830.6 850.2,829.2 851.5,828.8 852.7,827.7 854.0,828.6 855.2,826.8 856.5,825.7 857.7,825.9 859.0,825.2 860.2,825.0 861.5,823.3 862.7,822.8 864.0,823.0 865.2,823.7 866.5,821.8 867.7,819.8 869.0,820.3 870.2,819.0 871.5,817.6 872.7,817.8 874.0,817.3 875.2,817.4 876.5,817.5 877.7,816.7 879.0,815.9 880.2,814.3 881.5,814.1 882.7,813.4 884.0,813.8 885.2,811.7 886.5,811.1 887.7,812.0 889.0,810.7 890.2,809.3 891.5,809.2 892.7,808.6 894.0,808.0 895.2,807.8 896.5,806.9 897.7,805.8 899.0,804.9 900.2,803.4 901.5,803.8 902.7,804.3 904.0,803.0 905.2,801.7 906.5,801.4 907.7,800.3 909.0,800.5 910.2,801.2 911.5,800.4 912.7,799.3 914.0,798.4 915.2,797.0 916.5,795.6 917.7,795.9 919.0,794.9 920.2,795.2 921.5,794.1 922.7,792.9 924.0,793.1 925.2,794.3 926.5,790.8 927.7,791.7 929.0,790.6 930.2,789.5 931.5,788.3 932.7,788.3 934.0,787.8 935.2,787.6 936.5,786.9 937.7,786.0 939.0,784.6 940.2,784.7 941.5,783.5 942.7,782.4 944.0,783.2 945.2,781.4 946.5,780.4 947.7,780.7 949.0,778.6 950.2,779.4 951.5,779.1 952.7,777.8 954.0,777.7 955.2,778.5 956.5,777.3 957.7,776.3 959.0,775.5 960.2,774.0 961.5,773.7 962.7,772.9 964.0,772.5 965.2,772.0 966.5,770.7 967.7,771.9 969.0,769.3 970.2,769.7 971.5,769.6 972.7,768.2 974.0,767.1 975.2,767.0 976.5,767.8 977.7,766.2 979.0,764.8 980.2,764.9 981.5,763.7 982.7,761.8 984.0,762.7 985.2,762.7 986.5,762.2 987.7,760.6 989.0,759.0 990.2,760.4 991.5,758.7 992.7,758.8 994.0,758.4 995.2,757.2 996.5,756.3 997.7,755.3 999.0,754.8 1000.2,754.5 1001.5,753.6 1002.7,753.6 1004.0,751.2 1005.2,751.3 1006.5,751.4 1007.7,750.3 1009.0,749.8 1010.2,748.8 1011.5,749.6 1012.7,749.7 1014.0,747.1 1015.2,748.1 1016.5,745.6 1017.7,746.2 1019.0,744.0 1020.2,745.3 1021.5,744.3 1022.7,743.9 1024.0,744.1 1025.2,743.0 1026.5,742.0 1027.7,740.8 1029.0,740.9 1030.2,739.8 1031.5,739.5 1032.7,740.3 1034.0,739.4 1035.2,738.4 1036.5,738.1 1037.7,736.0 1039.0,736.7 1040.2,734.8 1041.5,735.1 1042.7,735.4 1044.0,734.9 1045.2,734.6 1046.5,733.7 1047.7,733.1 1049.0,732.5 1050.2,733.1 1051.5,732.4 1052.7,729.8 1054.0,730.5 1055.2,730.8 1056.5,729.1 1057.7,728.8 1059.0,727.6 1060.2,726.6 1061.5,727.0 1062.7,726.0 1064.0,725.6 1065.2,724.0 1066.5,723.6 1067.7,723.8 1069.0,722.9 1070.2,723.0 1071.5,721.2 1072.7,721.8 1074.0,721.1 1075.2,720.1 1076.5,719.8 1077.7,718.6 1079.0,717.9 1080.2,717.3 1081.5,715.7 1082.7,715.9 1084.0,715.8 1085.2,713.3 1086.5,714.3 1087.7,712.5 1089.0,712.0 1090.2,711.5 1091.5,710.9 1092.7,710.9 1094.0,709.0 1095.2,709.6 1096.5,707.6 1097.7,707.2 1099.0,706.5 1100.2,704.8 1101.5,703.7 1102.7,703.9 1104.0,703.6 1105.2,703.0 1106.5,701.4 1107.7,702.3 1109.0,700.3 1110.2,699.2 1111.5,699.9 1112.7,699.4 1114.0,697.1 1115.2,697.9 1116.5,695.7 1117.7,696.1 1119.0,697.2 1120.2,695.8 1121.5,694.8 1122.7,694.2 1124.0,692.5 1125.2,692.7 1126.5,692.2 1127.7,690.4 1129.0,690.7 1130.2,690.3 1131.5,689.4 1132.7,688.9 1134.0,687.7 1135.2,686.3 1136.5,686.4 1137.7,684.2 1139.0,684.4 1140.2,685.0 1141.5,684.7 1142.7,682.9 1144.0,680.1 1145.2,682.1 1146.5,680.7 1147.7,679.4 1149.0,679.3 1150.2,678.4 1151.5,676.4 1152.7,675.5 1154.0,676.5 1155.2,673.3 1156.5,674.7 1157.7,673.8 1159.0,673.6 1160.2,673.5 1161.5,672.5 1162.7,671.9 1164.0,670.7 1165.2,669.8 1166.5,669.5 1167.7,668.0 1169.0,666.7 1170.2,666.6 1171.5,664.8 1172.7,664.9 1174.0,666.2 1175.2,664.4 1176.5,663.2 1177.7,662.2 1179.0,660.6 1180.2,660.8 1181.5,660.0 1182.7,659.8 1184.0,659.2 1185.2,658.4 1186.5,656.3 1187.7,658.2 1189.0,656.7 1190.2,655.7 1191.5,654.7 1192.7,654.6 1194.0,654.5 1195.2,653.3 1196.5,651.2 1197.7,650.4 1199.0,648.8 1200.2,649.9 1201.5,649.6 1202.7,649.2 1204.0,647.3 1205.2,647.1 1206.5,644.1 1207.7,645.0 1209.0,643.2 1210.2,641.5 1211.5,639.1 1212.7,642.5 1214.0,636.7 1215.2,640.4 1216.5,637.7 1217.7,639.3 1219.0,637.1 1220.2,638.7 1221.5,636.8 1222.7,635.1 1224.0,635.5 1225.2,633.4 1226.5,635.7 1227.7,636.2 1229.0,634.6 1230.2,633.2 1231.5,633.8 1232.7,628.7 1234.0,629.9 1235.2,627.9 1236.5,626.1 1237.7,626.7 1239.0,623.2 1240.2,623.9 1241.5,623.8 1242.7,620.7 1244.0,621.3 1245.2,621.7 1246.5,621.7 1247.7,618.1 1249.0,620.3 1250.2,617.9 1251.5,617.9 1252.7,616.4 1254.0,618.1 1255.2,615.3 1256.5,616.5 1257.7,616.3 1259.0,616.6 1260.2,613.4 1261.5,616.0 1262.7,614.6 1264.0,616.5 1265.2,613.4 1266.5,612.8 1267.7,613.3 1269.0,612.6 1270.2,612.6 1271.5,610.5 1272.7,608.9 1274.0,609.5 1275.2,610.5 1276.5,611.7 1277.7,610.1 1279.0,608.6 1280.2,609.5 1281.5,609.4 1282.7,613.3 1284.0,610.6 1285.2,608.6 1286.5,605.7 1287.7,607.6 1289.0,607.2 1290.2,608.4 1291.5,611.3 1292.7,607.0 1294.0,602.3 1295.2,606.5 1296.5,602.0 1297.7,609.2 1299.0,610.2 1300.2,607.7 1301.5,601.2 1302.7,605.8 1304.0,610.9 1305.2,602.8 1306.5,604.3 1307.7,607.5 1309.0,608.4 1310.2,606.8 1311.5,607.8 1312.7,607.3 1314.0,604.1 1315.2,606.2 1316.5,607.7 1317.7,601.8 1319.0,607.1 1320.2,606.6 1321.5,608.0 1322.7,607.3 1324.0,600.9 1325.2,599.7 1326.5,606.4 1327.7,604.4 1329.0,605.5 1330.2,602.3 1331.5,598.9 1332.7,606.5 1334.0,604.7 1335.2,608.6 1336.5,611.3 1337.7,611.7 1339.0,611.5 1340.2,601.8 1341.5,596.1 1342.7,604.2 1344.0,601.4 1345.2,601.0 1346.5,612.0 1347.7,600.0 1349.0,614.2 1350.2,615.7 1351.5,625.0 1352.7,616.2 1354.0,622.8 1355.2,607.4 1356.5,607.5 1357.7,617.6 1359.0,604.4 1360.2,619.5 1361.5,611.1 1362.7,599.1 1364.0,628.3 1365.2,604.7 1366.5,637.0 1367.7,600.7 1369.0,606.4 1370.2,617.4 1371.5,615.2 1372.7,596.1 1374.0,616.0 1375.2,616.7 1376.5,619.8 1377.7,592.9 1379.0,605.4 1380.2,611.4 1381.5,640.0 1382.7,614.3 1384.0,607.9 1385.2,580.0 1386.5,630.1 1387.7,602.3 1389.0,657.0 1390.2,586.4 1391.5,631.8 1392.7,617.3 1394.0,593.4 1395.2,618.5 1396.5,625.8 1397.7,619.4 1399.0,611.8 1400.2,617.7"/>
<polyline fill="none" stroke="#008080" stroke-width="3.2" stroke-linejoin="round" points="182.7,631.3 184.0,627.9 185.2,628.4 186.5,625.4 187.7,637.2 189.0,644.8 190.2,641.8 191.5,645.6 192.7,649.6 194.0,644.9 195.2,659.9 196.5,649.3 197.7,655.5 199.0,665.1 200.2,656.2 201.5,657.9 202.7,656.6 204.0,660.3 205.2,653.0 206.5,659.0 207.7,667.9 209.0,665.0 210.2,665.8 211.5,670.2 212.7,672.8 214.0,674.4 215.2,677.9 216.5,673.5 217.7,682.6 219.0,681.1 220.2,687.6 221.5,687.7 222.7,686.1 224.0,687.9 225.2,683.6 226.5,687.8 227.7,684.0 229.0,686.4 230.2,680.9 231.5,688.5 232.7,683.2 234.0,687.8 235.2,686.3 236.5,681.0 237.7,684.9 239.0,682.5 240.2,684.4 241.5,686.1 242.7,682.7 244.0,682.0 245.2,674.3 246.5,675.9 247.7,674.4 249.0,674.2 250.2,667.4 251.5,667.7 252.7,664.5 254.0,656.7 255.2,655.1 256.5,656.2 257.7,649.8 259.0,647.3 260.2,650.0 261.5,646.2 262.7,642.7 264.0,641.4 265.2,638.2 266.5,635.9 267.7,634.1 269.0,634.0 270.2,634.1 271.5,627.4 272.7,625.5 274.0,622.1 275.2,616.8 276.5,618.2 277.7,617.9 279.0,611.9 280.2,613.5 281.5,606.0 282.7,605.0 284.0,600.9 285.2,594.8 286.5,589.3 287.7,592.1 289.0,588.6 290.2,587.8 291.5,589.1 292.7,591.3 294.0,585.3 295.2,580.7 296.5,571.2 297.7,568.2 299.0,560.6 300.2,560.6 301.5,554.1 302.7,551.6 304.0,548.1 305.2,544.3 306.5,544.4 307.7,540.1 309.0,534.7 310.2,533.4 311.5,532.2 312.7,532.6 314.0,526.0 315.2,528.4 316.5,518.5 317.7,517.1 319.0,509.3 320.2,515.4 321.5,504.7 322.7,501.4 324.0,506.2 325.2,497.0 326.5,493.0 327.7,497.8 329.0,489.7 330.2,492.1 331.5,482.9 332.7,485.6 334.0,484.5 335.2,477.0 336.5,482.5 337.7,469.1 339.0,467.1 340.2,465.7 341.5,467.5 342.7,458.9 344.0,456.3 345.2,458.2 346.5,461.8 347.7,452.8 349.0,447.7 350.2,452.4 351.5,455.2 352.7,448.7 354.0,450.9 355.2,440.2 356.5,447.9 357.7,446.5 359.0,447.0 360.2,443.4 361.5,443.5 362.7,433.1 364.0,439.3 365.2,426.9 366.5,431.2 367.7,438.9 369.0,437.3 370.2,424.0 371.5,435.4 372.7,430.3 374.0,428.4 375.2,432.9 376.5,432.3 377.7,438.2 379.0,424.3 380.2,428.8 381.5,429.8 382.7,421.2 384.0,435.2 385.2,437.4 386.5,425.4 387.7,429.7 389.0,426.0 390.2,428.1 391.5,423.0 392.7,429.8 394.0,419.9 395.2,431.8 396.5,426.8 397.7,436.6 399.0,417.1 400.2,424.8 401.5,419.4 402.7,425.2 404.0,428.4 405.2,422.3 406.5,420.3 407.7,419.3 409.0,429.1 410.2,434.5 411.5,434.3 412.7,429.1 414.0,424.5 415.2,427.5 416.5,422.2 417.7,422.0 419.0,434.7 420.2,428.4 421.5,431.3 422.7,428.6 424.0,436.4 425.2,437.0 426.5,426.4 427.7,428.5 429.0,427.1 430.2,436.8 431.5,436.5 432.7,429.3 434.0,441.9 435.2,431.1 436.5,425.4 437.7,421.7 439.0,431.1 440.2,433.7 441.5,429.8 442.7,434.8 444.0,439.2 445.2,433.6 446.5,438.4 447.7,442.7 449.0,437.4 450.2,432.5 451.5,437.5 452.7,438.1 454.0,445.7 455.2,433.2 456.5,427.6 457.7,436.2 459.0,435.9 460.2,431.9 461.5,436.0 462.7,434.4 464.0,437.6 465.2,428.7 466.5,428.9 467.7,431.3 469.0,429.3 470.2,435.3 471.5,432.9 472.7,431.0 474.0,435.5 475.2,432.6 476.5,434.1 477.7,433.8 479.0,431.4 480.2,431.6 481.5,432.3 482.7,429.6 484.0,431.9 485.2,435.4 486.5,434.2 487.7,431.2 489.0,440.3 490.2,431.5 491.5,436.2 492.7,436.8 494.0,438.7 495.2,433.5 496.5,436.4 497.7,436.4 499.0,440.5 500.2,439.1 501.5,439.7 502.7,440.6 504.0,444.9 505.2,442.1 506.5,443.1 507.7,438.7 509.0,443.4 510.2,438.6 511.5,444.5 512.7,442.5 514.0,439.8 515.2,439.1 516.5,441.8 517.7,442.2 519.0,440.3 520.2,440.8 521.5,440.7 522.7,440.0 524.0,440.7 525.2,441.7 526.5,444.2 527.7,442.4 529.0,439.1 530.2,444.6 531.5,443.4 532.7,439.6 534.0,442.9 535.2,438.9 536.5,438.3 537.7,438.4 539.0,444.4 540.2,440.6 541.5,441.1 542.7,440.5 544.0,439.3 545.2,441.5 546.5,442.0 547.7,445.3 549.0,438.2 550.2,444.2 551.5,442.0 552.7,436.0 554.0,442.8 555.2,444.4 556.5,443.1 557.7,441.0 559.0,440.7 560.2,435.1 561.5,440.6 562.7,440.0 564.0,436.8 565.2,439.2 566.5,436.6 567.7,443.5 569.0,434.3 570.2,434.7 571.5,431.1 572.7,435.1 574.0,436.1 575.2,435.5 576.5,433.7 577.7,437.4 579.0,435.7 580.2,438.1 581.5,434.8 582.7,430.6 584.0,434.6 585.2,432.4 586.5,436.9 587.7,433.1 589.0,433.9 590.2,434.3 591.5,430.3 592.7,432.9 594.0,435.8 595.2,431.9 596.5,432.7 597.7,433.2 599.0,430.8 600.2,431.4 601.5,432.9 602.7,430.6 604.0,431.3 605.2,430.5 606.5,428.0 607.7,427.0 609.0,434.9 610.2,433.1 611.5,429.1 612.7,431.5 614.0,431.6 615.2,430.9 616.5,427.3 617.7,424.4 619.0,424.5 620.2,426.8 621.5,430.4 622.7,430.6 624.0,425.8 625.2,425.3 626.5,428.8 627.7,430.6 629.0,422.9 630.2,426.0 631.5,424.9 632.7,423.4 634.0,423.1 635.2,422.7 636.5,423.2 637.7,419.0 639.0,422.5 640.2,424.1 641.5,423.7 642.7,423.4 644.0,421.9 645.2,421.2 646.5,425.2 647.7,419.6 649.0,420.0 650.2,422.4 651.5,419.0 652.7,415.3 654.0,416.7 655.2,416.6 656.5,416.9 657.7,415.7 659.0,418.9 660.2,417.8 661.5,416.8 662.7,414.1 664.0,417.2 665.2,416.7 666.5,419.2 667.7,411.8 669.0,412.5 670.2,415.7 671.5,409.1 672.7,411.9 674.0,411.3 675.2,410.4 676.5,407.4 677.7,409.3 679.0,405.0 680.2,411.2 681.5,406.5 682.7,407.5 684.0,406.6 685.2,406.6 686.5,405.9 687.7,406.2 689.0,403.7 690.2,404.2 691.5,400.8 692.7,400.5 694.0,400.4 695.2,399.5 696.5,398.1 697.7,399.4 699.0,402.0 700.2,400.9 701.5,398.4 702.7,399.7 704.0,399.3 705.2,404.6 706.5,393.5 707.7,397.6 709.0,393.2 710.2,399.1 711.5,395.0 712.7,396.2 714.0,395.2 715.2,396.1 716.5,386.7 717.7,390.7 719.0,393.4 720.2,389.5 721.5,393.8 722.7,395.1 724.0,388.5 725.2,390.3 726.5,392.5 727.7,395.1 729.0,392.7 730.2,391.6 731.5,387.2 732.7,388.9 734.0,388.7 735.2,386.4 736.5,388.4 737.7,386.1 739.0,385.2 740.2,390.9 741.5,384.6 742.7,389.0 744.0,382.7 745.2,382.7 746.5,379.1 747.7,380.0 749.0,384.6 750.2,380.0 751.5,374.3 752.7,382.0 754.0,375.6 755.2,376.0 756.5,376.3 757.7,357.7 759.0,361.1 760.2,377.6 761.5,373.0 762.7,374.0 764.0,371.8 765.2,370.4 766.5,370.6 767.7,367.0 769.0,368.9 770.2,367.9 771.5,373.4 772.7,364.4 774.0,370.6 775.2,368.6 776.5,366.6 777.7,364.1 779.0,369.5 780.2,368.0 781.5,363.7 782.7,362.7 784.0,363.1 785.2,366.6 786.5,359.2 787.7,361.0 789.0,363.0 790.2,356.2 791.5,358.8 792.7,361.1 794.0,356.6 795.2,356.8 796.5,352.5 797.7,356.6 799.0,352.0 800.2,353.3 801.5,354.3 802.7,351.3 804.0,354.0 805.2,352.7 806.5,351.3 807.7,351.6 809.0,347.9 810.2,342.0 811.5,348.6 812.7,347.4 814.0,343.4 815.2,341.6 816.5,345.7 817.7,340.7 819.0,340.1 820.2,339.1 821.5,345.2 822.7,336.8 824.0,331.4 825.2,336.8 826.5,333.8 827.7,331.3 829.0,335.3 830.2,332.9 831.5,335.8 832.7,332.1 834.0,335.3 835.2,334.2 836.5,331.2 837.7,332.4 839.0,334.4 840.2,331.0 841.5,325.2 842.7,328.4 844.0,328.1 845.2,330.1 846.5,326.0 847.7,328.5 849.0,324.8 850.2,324.6 851.5,323.3 852.7,323.3 854.0,322.2 855.2,322.8 856.5,319.4 857.7,318.1 859.0,319.8 860.2,319.7 861.5,317.7 862.7,319.1 864.0,318.2 865.2,321.0 866.5,312.5 867.7,320.4 869.0,309.1 870.2,309.9 871.5,314.3 872.7,310.7 874.0,311.7 875.2,310.8 876.5,308.0 877.7,307.4 879.0,309.3 880.2,310.6 881.5,310.7 882.7,309.1 884.0,307.4 885.2,310.7 886.5,301.8 887.7,306.8 889.0,309.4 890.2,309.8 891.5,308.3 892.7,308.2 894.0,306.9 895.2,304.2 896.5,297.9 897.7,301.6 899.0,301.7 900.2,305.7 901.5,300.2 902.7,299.8 904.0,301.8 905.2,297.1 906.5,299.0 907.7,299.6 909.0,296.7 910.2,296.7 911.5,291.6 912.7,292.2 914.0,293.8 915.2,296.5 916.5,291.4 917.7,289.7 919.0,289.2 920.2,292.0 921.5,286.0 922.7,289.1 924.0,287.1 925.2,287.4 926.5,284.6 927.7,286.0 929.0,288.5 930.2,283.8 931.5,282.7 932.7,277.0 934.0,284.0 935.2,280.7 936.5,282.7 937.7,281.5 939.0,278.8 940.2,278.7 941.5,276.5 942.7,284.3 944.0,281.2 945.2,280.5 946.5,281.0 947.7,281.0 949.0,279.2 950.2,279.2 951.5,282.3 952.7,271.4 954.0,275.7 955.2,273.2 956.5,274.3 957.7,267.4 959.0,270.4 960.2,274.6 961.5,268.9 962.7,272.8 964.0,268.8 965.2,269.9 966.5,265.9 967.7,267.6 969.0,264.8 970.2,269.3 971.5,263.1 972.7,267.6 974.0,264.9 975.2,265.3 976.5,268.7 977.7,264.0 979.0,262.5 980.2,263.6 981.5,264.8 982.7,261.2 984.0,266.3 985.2,262.0 986.5,260.2 987.7,259.0 989.0,259.7 990.2,261.1 991.5,261.8 992.7,258.9 994.0,256.8 995.2,257.7 996.5,252.1 997.7,259.6 999.0,258.4 1000.2,255.4 1001.5,257.1 1002.7,252.4 1004.0,258.9 1005.2,253.6 1006.5,252.4 1007.7,258.2 1009.0,250.1 1010.2,253.0 1011.5,249.4 1012.7,249.5 1014.0,249.6 1015.2,248.2 1016.5,252.7 1017.7,251.1 1019.0,246.4 1020.2,253.1 1021.5,246.4 1022.7,245.4 1024.0,246.2 1025.2,241.9 1026.5,247.2 1027.7,240.9 1029.0,239.4 1030.2,244.5 1031.5,239.0 1032.7,240.0 1034.0,237.0 1035.2,238.2 1036.5,239.0 1037.7,232.1 1039.0,237.3 1040.2,234.8 1041.5,239.7 1042.7,240.6 1044.0,236.3 1045.2,235.8 1046.5,236.3 1047.7,235.7 1049.0,228.9 1050.2,228.5 1051.5,229.9 1052.7,226.9 1054.0,228.8 1055.2,229.2 1056.5,226.2 1057.7,228.6 1059.0,230.2 1060.2,225.9 1061.5,225.9 1062.7,223.9 1064.0,222.8 1065.2,220.8 1066.5,218.4 1067.7,221.8 1069.0,222.2 1070.2,218.7 1071.5,218.3 1072.7,214.0 1074.0,216.2 1075.2,217.0 1076.5,215.5 1077.7,215.5 1079.0,212.4 1080.2,211.3 1081.5,213.4 1082.7,217.3 1084.0,212.2 1085.2,209.1 1086.5,210.7 1087.7,211.4 1089.0,214.4 1090.2,213.5 1091.5,208.3 1092.7,207.2 1094.0,208.4 1095.2,208.2 1096.5,204.8 1097.7,208.5 1099.0,203.8 1100.2,204.2 1101.5,201.8 1102.7,202.4 1104.0,199.7 1105.2,199.7 1106.5,201.4 1107.7,198.3 1109.0,200.7 1110.2,193.4 1111.5,195.5 1112.7,193.0 1114.0,191.5 1115.2,194.5 1116.5,198.8 1117.7,194.3 1119.0,195.7 1120.2,188.1 1121.5,193.0 1122.7,189.1 1124.0,192.0 1125.2,193.5 1126.5,189.2 1127.7,192.5 1129.0,187.3 1130.2,188.8 1131.5,186.4 1132.7,187.5 1134.0,186.2 1135.2,180.5 1136.5,184.3 1137.7,183.3 1139.0,187.9 1140.2,176.9 1141.5,182.5 1142.7,183.6 1144.0,185.5 1145.2,183.3 1146.5,179.3 1147.7,182.2 1149.0,177.6 1150.2,176.7 1151.5,175.6 1152.7,174.8 1154.0,178.7 1155.2,170.2 1156.5,169.6 1157.7,175.0 1159.0,173.1 1160.2,173.3 1161.5,169.7 1162.7,171.2 1164.0,168.2 1165.2,166.8 1166.5,166.2 1167.7,166.9 1169.0,165.9 1170.2,164.1 1171.5,168.2 1172.7,164.7 1174.0,162.0 1175.2,159.0 1176.5,161.4 1177.7,156.9 1179.0,158.1 1180.2,156.8 1181.5,156.8 1182.7,158.8 1184.0,150.7 1185.2,160.6 1186.5,157.4 1187.7,154.6 1189.0,153.4 1190.2,156.0 1191.5,153.3 1192.7,157.1 1194.0,151.7 1195.2,148.9 1196.5,146.8 1197.7,149.2 1199.0,151.0 1200.2,144.4 1201.5,149.6 1202.7,147.5 1204.0,143.6 1205.2,146.6 1206.5,138.0 1207.7,136.0 1209.0,141.5 1210.2,141.2 1211.5,140.4 1212.7,138.7 1214.0,134.4 1215.2,139.2 1216.5,136.3 1217.7,139.1 1219.0,136.9 1220.2,132.7 1221.5,137.0 1222.7,137.1 1224.0,136.5 1225.2,131.8 1226.5,130.2 1227.7,134.8 1229.0,131.6 1230.2,130.7 1231.5,133.1 1232.7,132.4 1234.0,129.9 1235.2,126.9 1236.5,131.0 1237.7,122.5 1239.0,124.6 1240.2,124.6 1241.5,118.5 1242.7,119.5 1244.0,123.3 1245.2,119.5 1246.5,115.7 1247.7,122.9 1249.0,117.3 1250.2,115.9 1251.5,120.1 1252.7,109.3 1254.0,111.7 1255.2,110.5 1256.5,117.4 1257.7,111.0 1259.0,120.9 1260.2,115.3 1261.5,115.1 1262.7,117.4 1264.0,114.0 1265.2,112.1 1266.5,113.3 1267.7,115.4 1269.0,112.5 1270.2,116.1 1271.5,113.9 1272.7,115.3 1274.0,115.9 1275.2,121.2 1276.5,123.5 1277.7,122.4 1279.0,116.4 1280.2,114.9 1281.5,120.5 1282.7,121.6 1284.0,120.6 1285.2,116.0 1286.5,119.1 1287.7,117.6 1289.0,122.0 1290.2,122.1 1291.5,120.2 1292.7,118.7 1294.0,125.9 1295.2,121.4 1296.5,123.8 1297.7,123.3 1299.0,124.4 1300.2,125.9 1301.5,121.4 1302.7,121.4 1304.0,125.1 1305.2,113.8 1306.5,123.8 1307.7,122.9 1309.0,128.0 1310.2,128.3 1311.5,129.0 1312.7,128.1 1314.0,135.3 1315.2,137.2 1316.5,140.5 1317.7,141.9 1319.0,137.9 1320.2,144.4 1321.5,139.3 1322.7,144.8 1324.0,144.7 1325.2,151.2 1326.5,144.4 1327.7,155.7 1329.0,143.7 1330.2,141.0 1331.5,152.8 1332.7,139.9 1334.0,153.1 1335.2,154.5 1336.5,154.1 1337.7,157.3 1339.0,156.9 1340.2,168.1 1341.5,156.9 1342.7,140.9 1344.0,157.4 1345.2,170.8 1346.5,174.2 1347.7,172.6 1349.0,166.8 1350.2,156.4 1351.5,188.2 1352.7,162.1 1354.0,155.9 1355.2,137.7 1356.5,200.4 1357.7,173.5 1359.0,145.7 1360.2,189.0 1361.5,186.5 1362.7,149.7 1364.0,189.5 1365.2,177.9 1366.5,189.0 1367.7,118.0 1369.0,125.0 1370.2,214.5 1371.5,178.6 1372.7,171.1 1374.0,199.9 1375.2,170.6 1376.5,176.0 1377.7,194.8 1379.0,167.5 1380.2,160.0 1381.5,185.7 1382.7,180.4 1384.0,170.8 1385.2,194.0 1386.5,159.0 1387.7,188.8 1389.0,158.5 1390.2,181.8 1391.5,152.8 1392.7,179.8 1394.0,165.3 1395.2,156.0 1396.5,133.0 1397.7,153.9 1399.0,136.0 1400.2,139.1"/>
<polyline fill="none" stroke="#ff00ff" stroke-width="3.2" stroke-linejoin="round" points="182.7,592.9 184.0,606.6 185.2,622.9 186.5,623.7 187.7,632.2 189.0,638.1 190.2,634.6 191.5,651.9 192.7,651.3 194.0,666.3 195.2,663.2 196.5,660.5 197.7,665.2 199.0,666.8 200.2,668.3 201.5,672.7 202.7,669.9 204.0,673.8 205.2,670.5 206.5,667.8 207.7,663.6 209.0,663.7 210.2,669.6 211.5,671.7 212.7,674.6 214.0,669.0 215.2,671.8 216.5,669.9 217.7,671.6 219.0,666.7 220.2,676.1 221.5,672.4 222.7,674.9 224.0,676.8 225.2,676.8 226.5,672.3 227.7,680.1 229.0,677.5 230.2,676.1 231.5,672.2 232.7,668.9 234.0,668.1 235.2,671.1 236.5,671.2 237.7,668.1 239.0,673.9 240.2,669.4 241.5,670.7 242.7,670.1 244.0,664.8 245.2,669.6 246.5,668.0 247.7,663.4 249.0,667.8 250.2,668.0 251.5,667.0 252.7,666.3 254.0,659.8 255.2,661.6 256.5,660.1 257.7,660.6 259.0,659.9 260.2,661.3 261.5,659.6 262.7,655.3 264.0,658.1 265.2,658.6 266.5,654.5 267.7,649.2 269.0,649.5 270.2,648.7 271.5,643.6 272.7,644.8 274.0,640.1 275.2,642.5 276.5,639.9 277.7,635.5 279.0,630.3 280.2,631.3 281.5,627.1 282.7,625.0 284.0,627.0 285.2,621.1 286.5,617.9 287.7,620.9 289.0,621.2 290.2,619.1 291.5,615.5 292.7,616.6 294.0,609.5 295.2,613.4 296.5,611.5 297.7,604.4 299.0,604.4 300.2,598.9 301.5,597.7 302.7,599.5 304.0,594.0 305.2,595.3 306.5,594.1 307.7,591.6 309.0,591.6 310.2,591.9 311.5,586.0 312.7,585.8 314.0,584.8 315.2,578.4 316.5,575.7 317.7,569.6 319.0,573.5 320.2,572.5 321.5,568.6 322.7,569.6 324.0,565.3 325.2,560.5 326.5,555.1 327.7,549.7 329.0,548.4 330.2,546.0 331.5,541.6 332.7,538.3 334.0,535.7 335.2,536.7 336.5,527.3 337.7,529.8 339.0,529.3 340.2,529.9 341.5,528.3 342.7,523.3 344.0,520.5 345.2,516.7 346.5,523.6 347.7,520.1 349.0,517.2 350.2,512.5 351.5,509.6 352.7,516.5 354.0,510.9 355.2,511.2 356.5,514.6 357.7,501.1 359.0,502.3 360.2,504.7 361.5,504.0 362.7,496.2 364.0,498.0 365.2,494.6 366.5,493.3 367.7,495.5 369.0,493.9 370.2,496.7 371.5,493.9 372.7,496.5 374.0,487.6 375.2,491.5 376.5,484.4 377.7,483.0 379.0,483.5 380.2,490.6 381.5,488.3 382.7,481.2 384.0,491.4 385.2,489.6 386.5,485.0 387.7,484.2 389.0,484.5 390.2,479.6 391.5,492.0 392.7,481.3 394.0,481.8 395.2,480.9 396.5,479.2 397.7,477.9 399.0,482.0 400.2,476.0 401.5,476.3 402.7,476.9 404.0,482.5 405.2,475.7 406.5,475.4 407.7,479.9 409.0,474.4 410.2,477.1 411.5,481.3 412.7,479.4 414.0,477.9 415.2,483.2 416.5,476.1 417.7,475.4 419.0,471.2 420.2,477.7 421.5,479.8 422.7,475.1 424.0,484.3 425.2,481.2 426.5,480.9 427.7,473.2 429.0,478.6 430.2,478.9 431.5,470.2 432.7,477.5 434.0,476.7 435.2,471.3 436.5,479.4 437.7,485.2 439.0,480.7 440.2,475.3 441.5,477.8 442.7,483.3 444.0,476.7 445.2,481.4 446.5,480.7 447.7,481.7 449.0,487.4 450.2,476.2 451.5,486.1 452.7,482.9 454.0,481.6 455.2,475.6 456.5,482.3 457.7,479.1 459.0,469.2 460.2,474.1 461.5,473.8 462.7,473.5 464.0,474.0 465.2,472.3 466.5,480.1 467.7,477.6 469.0,472.7 470.2,477.5 471.5,479.9 472.7,473.8 474.0,467.2 475.2,473.5 476.5,477.5 477.7,469.1 479.0,473.0 480.2,476.8 481.5,477.9 482.7,477.0 484.0,475.8 485.2,474.6 486.5,473.8 487.7,478.3 489.0,478.1 490.2,474.9 491.5,474.4 492.7,478.9 494.0,478.3 495.2,474.2 496.5,472.1 497.7,476.1 499.0,477.7 500.2,478.0 501.5,477.6 502.7,472.1 504.0,475.7 505.2,474.7 506.5,473.8 507.7,481.5 509.0,475.4 510.2,476.0 511.5,474.7 512.7,476.9 514.0,478.0 515.2,474.8 516.5,475.5 517.7,474.6 519.0,473.5 520.2,475.5 521.5,476.9 522.7,476.3 524.0,475.9 525.2,472.4 526.5,477.6 527.7,477.4 529.0,480.6 530.2,475.8 531.5,474.3 532.7,473.1 534.0,476.1 535.2,477.4 536.5,478.1 537.7,474.0 539.0,476.3 540.2,479.8 541.5,477.7 542.7,476.8 544.0,476.7 545.2,474.0 546.5,474.4 547.7,476.4 549.0,480.3 550.2,480.1 551.5,477.2 552.7,478.9 554.0,478.5 555.2,480.1 556.5,476.0 557.7,478.1 559.0,479.6 560.2,474.7 561.5,477.3 562.7,477.9 564.0,478.1 565.2,478.2 566.5,478.2 567.7,479.0 569.0,479.6 570.2,477.2 571.5,481.0 572.7,474.9 574.0,475.3 575.2,476.2 576.5,473.6 577.7,471.8 579.0,471.9 580.2,477.1 581.5,472.9 582.7,471.2 584.0,478.1 585.2,474.5 586.5,473.9 587.7,471.1 589.0,473.6 590.2,471.7 591.5,473.1 592.7,472.2 594.0,471.5 595.2,472.2 596.5,469.5 597.7,470.3 599.0,469.2 600.2,471.5 601.5,472.0 602.7,471.9 604.0,465.6 605.2,473.4 606.5,468.9 607.7,468.8 609.0,468.7 610.2,468.4 611.5,471.1 612.7,468.4 614.0,468.5 615.2,469.7 616.5,470.3 617.7,464.9 619.0,464.2 620.2,462.5 621.5,462.3 622.7,466.9 624.0,466.2 625.2,465.7 626.5,466.3 627.7,465.9 629.0,467.7 630.2,468.5 631.5,462.7 632.7,467.5 634.0,466.3 635.2,461.9 636.5,463.8 637.7,462.1 639.0,459.0 640.2,462.5 641.5,458.5 642.7,461.8 644.0,459.1 645.2,460.2 646.5,462.4 647.7,460.5 649.0,458.0 650.2,459.9 651.5,460.5 652.7,460.7 654.0,456.4 655.2,460.3 656.5,457.0 657.7,455.8 659.0,459.2 660.2,457.5 661.5,457.2 662.7,455.6 664.0,450.9 665.2,455.4 666.5,455.2 667.7,453.2 669.0,456.7 670.2,452.8 671.5,455.7 672.7,454.1 674.0,449.5 675.2,448.7 676.5,449.4 677.7,449.5 679.0,450.7 680.2,447.5 681.5,446.1 682.7,452.8 684.0,447.9 685.2,448.2 686.5,451.1 687.7,447.3 689.0,441.8 690.2,447.8 691.5,445.2 692.7,448.6 694.0,442.3 695.2,446.6 696.5,447.8 697.7,449.0 699.0,447.9 700.2,447.7 701.5,445.5 702.7,445.4 704.0,443.1 705.2,447.2 706.5,448.3 707.7,446.1 709.0,442.6 710.2,441.2 711.5,442.9 712.7,447.2 714.0,443.7 715.2,440.8 716.5,441.6 717.7,443.7 719.0,439.9 720.2,439.6 721.5,438.9 722.7,437.4 724.0,442.9 725.2,436.2 726.5,437.9 727.7,439.2 729.0,435.6 730.2,434.3 731.5,434.1 732.7,433.8 734.0,432.7 735.2,431.6 736.5,431.1 737.7,431.6 739.0,434.7 740.2,429.3 741.5,431.4 742.7,428.7 744.0,426.4 745.2,425.5 746.5,428.1 747.7,424.0 749.0,427.3 750.2,425.0 751.5,428.9 752.7,422.4 754.0,426.5 755.2,426.6 756.5,424.9 757.7,410.4 759.0,412.9 760.2,421.9 761.5,420.7 762.7,422.6 764.0,419.9 765.2,420.1 766.5,421.5 767.7,418.4 769.0,417.4 770.2,418.1 771.5,416.1 772.7,411.6 774.0,415.0 775.2,415.2 776.5,412.5 777.7,410.5 779.0,415.0 780.2,412.1 781.5,414.4 782.7,413.5 784.0,415.3 785.2,412.7 786.5,412.9 787.7,413.3 789.0,409.0 790.2,411.7 791.5,411.3 792.7,404.2 794.0,405.2 795.2,407.3 796.5,410.1 797.7,405.0 799.0,402.4 800.2,401.1 801.5,404.6 802.7,403.7 804.0,401.1 805.2,402.5 806.5,400.3 807.7,402.9 809.0,396.7 810.2,398.0 811.5,400.7 812.7,396.2 814.0,394.9 815.2,395.5 816.5,399.4 817.7,395.3 819.0,397.0 820.2,391.2 821.5,392.1 822.7,393.4 824.0,391.7 825.2,389.3 826.5,385.0 827.7,390.3 829.0,390.1 830.2,388.8 831.5,383.4 832.7,383.3 834.0,384.5 835.2,382.9 836.5,386.7 837.7,381.4 839.0,382.4 840.2,380.0 841.5,378.0 842.7,383.4 844.0,380.9 845.2,378.4 846.5,379.4 847.7,374.0 849.0,381.7 850.2,375.4 851.5,372.9 852.7,374.2 854.0,376.5 855.2,375.5 856.5,376.4 857.7,376.0 859.0,374.0 860.2,375.7 861.5,368.9 862.7,373.5 864.0,373.0 865.2,372.2 866.5,370.6 867.7,369.3 869.0,368.7 870.2,365.8 871.5,368.0 872.7,371.0 874.0,371.3 875.2,366.6 876.5,366.1 877.7,365.7 879.0,366.1 880.2,366.0 881.5,366.6 882.7,368.3 884.0,360.3 885.2,362.0 886.5,362.9 887.7,363.4 889.0,364.0 890.2,366.6 891.5,360.3 892.7,363.3 894.0,361.3 895.2,361.2 896.5,361.2 897.7,362.0 899.0,359.9 900.2,356.7 901.5,359.6 902.7,359.1 904.0,354.1 905.2,357.9 906.5,356.2 907.7,355.3 909.0,355.3 910.2,358.2 911.5,350.2 912.7,353.6 914.0,348.4 915.2,351.9 916.5,353.2 917.7,346.5 919.0,352.3 920.2,350.2 921.5,348.2 922.7,347.5 924.0,347.2 925.2,346.7 926.5,345.8 927.7,347.6 929.0,346.5 930.2,342.2 931.5,345.9 932.7,347.0 934.0,346.0 935.2,342.5 936.5,337.8 937.7,339.6 939.0,339.9 940.2,339.5 941.5,335.9 942.7,339.9 944.0,340.0 945.2,334.5 946.5,335.3 947.7,334.2 949.0,335.9 950.2,337.8 951.5,330.2 952.7,337.7 954.0,335.8 955.2,330.3 956.5,336.1 957.7,334.6 959.0,332.6 960.2,331.6 961.5,328.3 962.7,330.8 964.0,327.3 965.2,328.7 966.5,330.3 967.7,326.6 969.0,325.4 970.2,327.4 971.5,327.8 972.7,327.3 974.0,324.1 975.2,327.1 976.5,327.1 977.7,322.2 979.0,323.7 980.2,318.0 981.5,321.0 982.7,318.5 984.0,320.6 985.2,318.5 986.5,314.2 987.7,320.2 989.0,316.2 990.2,320.5 991.5,320.7 992.7,318.3 994.0,316.4 995.2,316.6 996.5,312.5 997.7,315.4 999.0,316.9 1000.2,315.8 1001.5,311.5 1002.7,316.7 1004.0,314.0 1005.2,310.4 1006.5,313.0 1007.7,309.5 1009.0,310.0 1010.2,310.8 1011.5,314.3 1012.7,315.3 1014.0,306.0 1015.2,308.8 1016.5,308.1 1017.7,309.5 1019.0,308.4 1020.2,305.8 1021.5,307.4 1022.7,304.8 1024.0,304.0 1025.2,306.5 1026.5,305.2 1027.7,303.1 1029.0,305.3 1030.2,302.5 1031.5,301.2 1032.7,302.1 1034.0,303.3 1035.2,300.1 1036.5,304.1 1037.7,299.9 1039.0,300.5 1040.2,301.1 1041.5,298.8 1042.7,296.9 1044.0,297.3 1045.2,299.3 1046.5,299.4 1047.7,297.5 1049.0,294.5 1050.2,292.9 1051.5,293.1 1052.7,292.8 1054.0,293.7 1055.2,292.5 1056.5,290.2 1057.7,292.7 1059.0,288.9 1060.2,289.9 1061.5,287.4 1062.7,290.5 1064.0,288.3 1065.2,287.0 1066.5,288.2 1067.7,287.0 1069.0,281.3 1070.2,283.7 1071.5,280.1 1072.7,280.3 1074.0,279.8 1075.2,276.8 1076.5,276.4 1077.7,278.5 1079.0,277.7 1080.2,277.9 1081.5,275.7 1082.7,274.5 1084.0,274.0 1085.2,273.3 1086.5,271.6 1087.7,272.8 1089.0,269.9 1090.2,269.1 1091.5,267.4 1092.7,270.2 1094.0,267.8 1095.2,268.2 1096.5,268.3 1097.7,265.5 1099.0,267.3 1100.2,266.4 1101.5,265.6 1102.7,261.0 1104.0,266.8 1105.2,265.1 1106.5,264.7 1107.7,266.6 1109.0,260.2 1110.2,266.0 1111.5,260.9 1112.7,262.8 1114.0,263.0 1115.2,257.8 1116.5,260.1 1117.7,257.8 1119.0,259.6 1120.2,255.1 1121.5,261.4 1122.7,258.2 1124.0,256.2 1125.2,254.4 1126.5,258.6 1127.7,254.1 1129.0,256.4 1130.2,251.6 1131.5,254.7 1132.7,248.9 1134.0,253.0 1135.2,249.5 1136.5,248.7 1137.7,252.2 1139.0,250.9 1140.2,247.4 1141.5,246.3 1142.7,249.5 1144.0,243.1 1145.2,245.0 1146.5,243.2 1147.7,244.0 1149.0,243.0 1150.2,242.0 1151.5,239.0 1152.7,241.3 1154.0,241.0 1155.2,238.3 1156.5,242.1 1157.7,236.8 1159.0,237.0 1160.2,240.5 1161.5,234.9 1162.7,234.5 1164.0,230.8 1165.2,233.3 1166.5,231.6 1167.7,232.4 1169.0,228.7 1170.2,232.9 1171.5,230.7 1172.7,230.7 1174.0,227.3 1175.2,223.5 1176.5,227.3 1177.7,225.7 1179.0,224.0 1180.2,227.7 1181.5,224.1 1182.7,223.0 1184.0,222.8 1185.2,221.8 1186.5,221.0 1187.7,221.0 1189.0,218.7 1190.2,216.6 1191.5,214.9 1192.7,216.3 1194.0,216.0 1195.2,215.8 1196.5,211.6 1197.7,209.3 1199.0,208.7 1200.2,214.2 1201.5,211.6 1202.7,209.6 1204.0,208.4 1205.2,213.1 1206.5,209.5 1207.7,208.7 1209.0,205.4 1210.2,208.5 1211.5,204.5 1212.7,203.1 1214.0,207.1 1215.2,204.3 1216.5,204.4 1217.7,199.1 1219.0,200.9 1220.2,199.3 1221.5,201.0 1222.7,199.7 1224.0,199.3 1225.2,197.1 1226.5,201.1 1227.7,194.6 1229.0,197.7 1230.2,195.9 1231.5,197.5 1232.7,191.8 1234.0,195.4 1235.2,189.3 1236.5,190.7 1237.7,188.1 1239.0,194.5 1240.2,182.1 1241.5,183.2 1242.7,179.0 1244.0,181.3 1245.2,184.0 1246.5,183.3 1247.7,181.8 1249.0,182.2 1250.2,183.7 1251.5,184.7 1252.7,189.7 1254.0,185.6 1255.2,184.2 1256.5,183.1 1257.7,186.5 1259.0,188.7 1260.2,183.4 1261.5,187.5 1262.7,186.0 1264.0,177.2 1265.2,190.8 1266.5,187.5 1267.7,179.6 1269.0,177.7 1270.2,185.1 1271.5,182.7 1272.7,186.2 1274.0,183.1 1275.2,188.8 1276.5,182.6 1277.7,186.1 1279.0,187.1 1280.2,183.9 1281.5,188.4 1282.7,186.0 1284.0,186.0 1285.2,185.7 1286.5,178.3 1287.7,183.7 1289.0,194.5 1290.2,186.9 1291.5,185.8 1292.7,188.3 1294.0,188.5 1295.2,197.3 1296.5,185.8 1297.7,187.5 1299.0,192.7 1300.2,183.9 1301.5,184.7 1302.7,186.2 1304.0,188.6 1305.2,195.3 1306.5,196.8 1307.7,194.0 1309.0,199.9 1310.2,185.5 1311.5,197.3 1312.7,191.0 1314.0,196.1 1315.2,193.7 1316.5,189.7 1317.7,200.4 1319.0,202.1 1320.2,198.1 1321.5,193.9 1322.7,207.9 1324.0,186.0 1325.2,200.0 1326.5,193.7 1327.7,194.8 1329.0,206.6 1330.2,196.7 1331.5,208.2 1332.7,202.7 1334.0,213.2 1335.2,210.1 1336.5,209.9 1337.7,202.5 1339.0,202.2 1340.2,192.7 1341.5,209.1 1342.7,213.5 1344.0,196.5 1345.2,211.4 1346.5,196.1 1347.7,207.5 1349.0,192.2 1350.2,210.2 1351.5,229.5 1352.7,218.1 1354.0,183.5 1355.2,229.6 1356.5,213.0 1357.7,245.1 1359.0,235.9 1360.2,236.7 1361.5,219.3 1362.7,228.7 1364.0,212.7 1365.2,229.4 1366.5,250.0 1367.7,201.5 1369.0,223.9 1370.2,244.4 1371.5,266.0 1372.7,228.6 1374.0,240.8 1375.2,237.9 1376.5,242.9 1377.7,245.6 1379.0,253.2 1380.2,224.4 1381.5,238.6 1382.7,236.1 1384.0,268.0 1385.2,219.0 1386.5,239.2 1387.7,231.3 1389.0,236.7 1390.2,222.7 1391.5,221.5 1392.7,239.2 1394.0,184.7 1395.2,189.3 1396.5,220.5 1397.7,224.1 1399.0,231.0 1400.2,230.6"/>
<rect x="181.9" y="48.2" width="1220.0" height="984.1" fill="none" stroke="#000" stroke-width="3.5"/>
<line x1="181.9" y1="835.5" x2="199.5" y2="835.5" stroke="#000" stroke-width="3"/>
<line x1="181.9" y1="638.7" x2="199.5" y2="638.7" stroke="#000" stroke-width="3"/>
<line x1="181.9" y1="441.8" x2="199.5" y2="441.8" stroke="#000" stroke-width="3"/>
<line x1="181.9" y1="245.0" x2="199.5" y2="245.0" stroke="#000" stroke-width="3"/>
<line x1="356.2" y1="1032.3" x2="356.2" y2="1013.3" stroke="#000" stroke-width="3"/>
<line x1="530.5" y1="1032.3" x2="530.5" y2="1013.3" stroke="#000" stroke-width="3"/>
<line x1="704.8" y1="1032.3" x2="704.8" y2="1013.3" stroke="#000" stroke-width="3"/>
<line x1="879.0" y1="1032.3" x2="879.0" y2="1013.3" stroke="#000" stroke-width="3"/>
<line x1="1053.3" y1="1032.3" x2="1053.3" y2="1013.3" stroke="#000" stroke-width="3"/>
<line x1="1227.6" y1="1032.3" x2="1227.6" y2="1013.3" stroke="#000" stroke-width="3"/>
<text x="160.5" y="1040.0" font-family="Liberation Serif, serif" font-size="44" text-anchor="end">0</text>
<text x="160.5" y="843.6" font-family="Liberation Serif, serif" font-size="44" text-anchor="end">20</text>
<text x="160.5" y="647.2" font-family="Liberation Serif, serif" font-size="44" text-anchor="end">40</text>
<text x="160.5" y="450.8" font-family="Liberation Serif, serif" font-size="44" text-anchor="end">60</text>
<text x="160.5" y="254.4" font-family="Liberation Serif, serif" font-size="44" text-anchor="end">80</text>
<text x="160.5" y="58.0" font-family="Liberation Serif, serif" font-size="44" text-anchor="end">100</text>
<text x="180.6" y="1083.3" font-family="Liberation Serif, serif" font-size="44" text-anchor="middle">200</text>
<text x="354.3" y="1083.3" font-family="Liberation Serif, serif" font-size="44" text-anchor="middle">300</text>
<text x="530.1" y="1083.3" font-family="Liberation Serif, serif" font-size="44" text-anchor="middle">400</text>
<text x="703.9" y="1083.3" font-family="Liberation Serif, serif" font-size="44" text-anchor="middle">500</text>
<text x="878.7" y="1083.3" font-family="Liberation Serif, serif" font-size="44" text-anchor="middle">600</text>
<text x="1053.6" y="1083.3" font-family="Liberation Serif, serif" font-size="44" text-anchor="middle">700</text>
<text x="1227.7" y="1083.3" font-family="Liberation Serif, serif" font-size="44" text-anchor="middle">800</text>
<text x="1401.8" y="1083.3" font-family="Liberation Serif, serif" font-size="44" text-anchor="middle">900</text>
<line x1="211" y1="83.9" x2="298" y2="83.9" stroke="#000" stroke-width="3"/>
<text transform="matrix(1.0333 0 0 1.0200 304.17 94.50)" font-family="Liberation Serif, serif" font-size="31" font-weight="normal">0%</text>
<text transform="matrix(1.2050 0 0 1.0200 353.30 94.50)" font-family="Liberation Serif, serif" font-size="31" font-weight="normal">O</text>
<text transform="matrix(1.2375 0 0 1.0200 377.36 102.50)" font-family="Liberation Serif, serif" font-size="21" font-weight="normal">2</text>
<text transform="matrix(1.2182 0 0 1.0200 391.95 94.50)" font-family="Liberation Serif, serif" font-size="31" font-weight="normal">1</text>
<text transform="matrix(1.4167 0 0 1.0200 410.38 82.90)" font-family="Liberation Serif, serif" font-size="20" font-weight="normal">st</text>
<text transform="matrix(1.1197 0 0 1.0200 432.30 94.50)" font-family="Liberation Serif, serif" font-size="31" font-weight="normal">Assay</text>
<line x1="211" y1="139.3" x2="298" y2="139.3" stroke="#ff2020" stroke-width="3"/>
<text transform="matrix(1.0418 0 0 1.0200 304.16 149.10)" font-family="Liberation Serif, serif" font-size="31" font-weight="normal">20%</text>
<text transform="matrix(1.2100 0 0 1.0200 368.49 149.10)" font-family="Liberation Serif, serif" font-size="31" font-weight="normal">O</text>
<text transform="matrix(1.1250 0 0 1.0200 394.48 157.10)" font-family="Liberation Serif, serif" font-size="21" font-weight="normal">2</text>
<text transform="matrix(1.0636 0 0 1.0200 412.11 149.10)" font-family="Liberation Serif, serif" font-size="31" font-weight="normal">1</text>
<text transform="matrix(1.2667 0 0 1.0200 429.33 137.50)" font-family="Liberation Serif, serif" font-size="20" font-weight="normal">st</text>
<text transform="matrix(1.0842 0 0 1.0200 452.00 149.10)" font-family="Liberation Serif, serif" font-size="31" font-weight="normal">Assay</text>
<line x1="211" y1="194.8" x2="298" y2="194.8" stroke="#0000ff" stroke-width="3"/>
<text transform="matrix(1.0611 0 0 1.0200 303.08 205.50)" font-family="Liberation Serif, serif" font-size="31" font-weight="normal">30%</text>
<text transform="matrix(1.2100 0 0 1.0200 368.49 205.50)" font-family="Liberation Serif, serif" font-size="31" font-weight="normal">O</text>
<text transform="matrix(1.1250 0 0 1.0200 394.48 213.50)" font-family="Liberation Serif, serif" font-size="21" font-weight="normal">2</text>
<text transform="matrix(1.0636 0 0 1.0200 410.31 205.50)" font-family="Liberation Serif, serif" font-size="31" font-weight="normal">1</text>
<text transform="matrix(1.3417 0 0 1.0200 426.56 193.90)" font-family="Liberation Serif, serif" font-size="20" font-weight="normal">st</text>
<text transform="matrix(1.0842 0 0 1.0200 450.20 205.50)" font-family="Liberation Serif, serif" font-size="31" font-weight="normal">Assay</text>
<line x1="211" y1="250.2" x2="298" y2="250.2" stroke="#008080" stroke-width="3"/>
<text transform="matrix(1.0333 0 0 1.0200 304.17 260.80)" font-family="Liberation Serif, serif" font-size="31" font-weight="normal">0%</text>
<text transform="matrix(1.2050 0 0 1.0200 353.30 260.80)" font-family="Liberation Serif, serif" font-size="31" font-weight="normal">O</text>
<text transform="matrix(1.2375 0 0 1.0200 377.36 268.80)" font-family="Liberation Serif, serif" font-size="21" font-weight="normal">2</text>
<text transform="matrix(1.1692 0 0 1.0200 402.53 260.80)" font-family="Liberation Serif, serif" font-size="31" font-weight="normal">2</text>
<text transform="matrix(1.2263 0 0 1.0200 418.57 250.00)" font-family="Liberation Serif, serif" font-size="20" font-weight="normal">nd</text>
<text transform="matrix(1.0961 0 0 1.0200 451.10 260.80)" font-family="Liberation Serif, serif" font-size="31" font-weight="normal">Assay</text>
<line x1="211" y1="304.8" x2="298" y2="304.8" stroke="#ff00ff" stroke-width="3"/>
<text transform="matrix(1.0418 0 0 1.0200 304.16 315.40)" font-family="Liberation Serif, serif" font-size="31" font-weight="normal">20%</text>
<text transform="matrix(1.2100 0 0 1.0200 368.49 315.40)" font-family="Liberation Serif, serif" font-size="31" font-weight="normal">O</text>
<text transform="matrix(1.1250 0 0 1.0200 394.48 323.40)" font-family="Liberation Serif, serif" font-size="21" font-weight="normal">2</text>
<text transform="matrix(1.1692 0 0 1.0200 410.63 315.40)" font-family="Liberation Serif, serif" font-size="31" font-weight="normal">2</text>
<text transform="matrix(1.3211 0 0 1.0200 426.58 304.60)" font-family="Liberation Serif, serif" font-size="20" font-weight="normal">nd</text>
<text transform="matrix(1.0961 0 0 1.0200 459.20 315.40)" font-family="Liberation Serif, serif" font-size="31" font-weight="normal">Assay</text>
<text transform="matrix(1.0493 0 0 0.9800 595.00 1182.30)" font-family="Liberation Serif, serif" font-size="54" font-weight="normal">Wavelength (nm)</text>
<text transform="matrix(0 -0.9762 0.9878 0 71.13 602.75)" font-family="Liberation Serif, serif" font-size="54">R (%)</text>
<text transform="matrix(0.8909 0 0 0.9759 685.34 1315.43)" font-family="Liberation Serif, serif" font-size="88" font-weight="normal">(</text>
<text transform="matrix(1.0628 0 0 1.0115 711.84 1314.39)" font-family="Liberation Serif, serif" font-size="86" font-weight="bold">b</text>
<text transform="matrix(0.8773 0 0 0.9637 763.67 1314.69)" font-family="Liberation Serif, serif" font-size="88" font-weight="normal">)</text>
</svg>
</div></body></html>
